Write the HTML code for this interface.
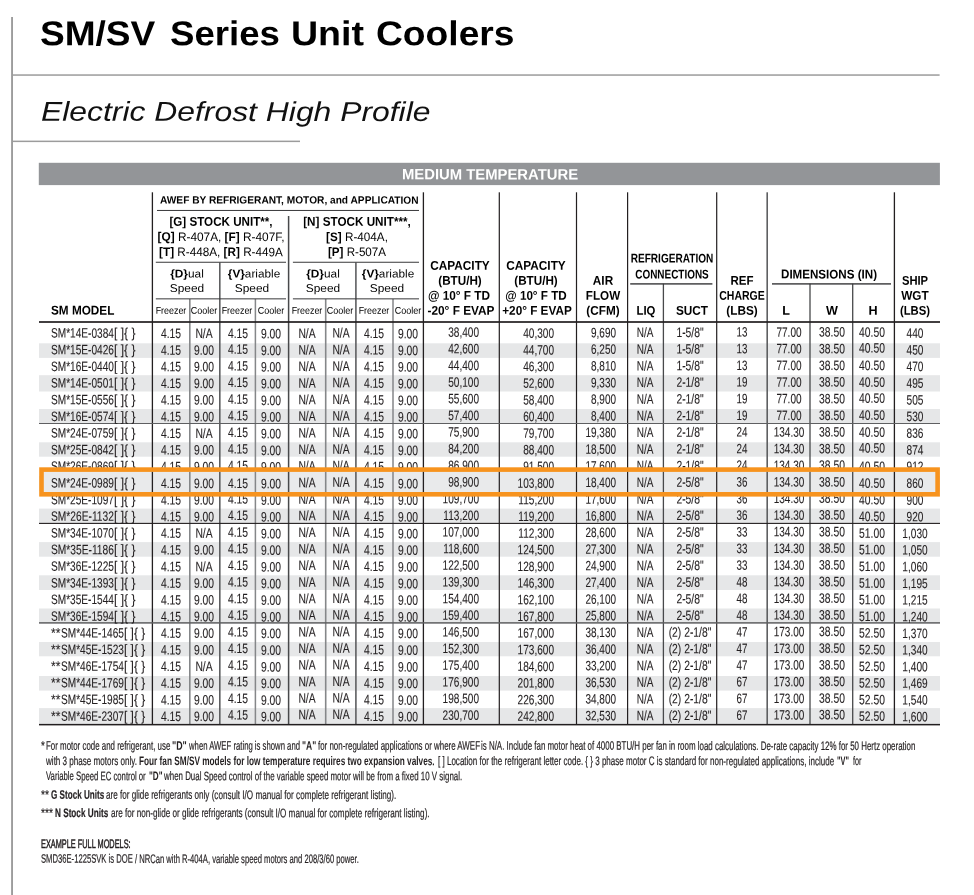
<!DOCTYPE html>
<html lang="en">
<head>
<meta charset="utf-8">
<title>SM/SV Series Unit Coolers - Electric Defrost High Profile</title>
<style>
html,body{margin:0;padding:0;background:#fff;}
body{width:974px;height:895px;position:relative;overflow:hidden;font-family:"Liberation Sans",Arial,Helvetica,sans-serif;color:#231f20;}
.g{position:absolute;left:0;top:0;display:block;}
.t{position:absolute;white-space:pre;line-height:1;display:block;}
.l{transform-origin:0 50%;}
.c{transform-origin:50% 50%;}
.rt{transform-origin:100% 50%;}
</style>
</head>
<body>
<svg class="g" width="974" height="895" viewBox="0 0 974 895">
<rect x="11.10" y="17.00" width="1.90" height="878.00" fill="#9c9c9c"/>
<rect x="12.00" y="74.30" width="927.60" height="1.50" fill="#9c9c9c"/>
<rect x="12.00" y="140.60" width="288.00" height="1.50" fill="#9c9c9c"/>
<rect x="38.80" y="162.80" width="901.10" height="22.30" fill="#939598"/>
<rect x="39.00" y="343.30" width="901.00" height="14.60" fill="#e6e7e8"/>
<rect x="39.00" y="375.20" width="901.00" height="16.30" fill="#e6e7e8"/>
<rect x="39.00" y="409.00" width="901.00" height="14.50" fill="#e6e7e8"/>
<rect x="39.00" y="442.30" width="901.00" height="14.40" fill="#e6e7e8"/>
<rect x="39.00" y="475.89" width="901.00" height="15.20" fill="#e6e7e8"/>
<rect x="39.00" y="508.60" width="901.00" height="14.80" fill="#e6e7e8"/>
<rect x="39.00" y="542.10" width="901.00" height="14.60" fill="#e6e7e8"/>
<rect x="39.00" y="575.30" width="901.00" height="14.70" fill="#e6e7e8"/>
<rect x="39.00" y="608.50" width="901.00" height="14.40" fill="#e6e7e8"/>
<rect x="39.00" y="642.00" width="901.00" height="14.30" fill="#e6e7e8"/>
<rect x="39.00" y="676.00" width="901.00" height="14.60" fill="#e6e7e8"/>
<rect x="39.00" y="708.10" width="901.00" height="16.30" fill="#e6e7e8"/>
<rect x="151.75" y="192.30" width="1.30" height="532.10" fill="#231f20"/>
<rect x="189.00" y="299.00" width="1.60" height="425.40" fill="#858789"/>
<rect x="219.00" y="262.50" width="1.60" height="461.90" fill="#5e5f61"/>
<rect x="254.65" y="299.00" width="1.50" height="425.40" fill="#858789"/>
<rect x="287.85" y="216.00" width="1.50" height="508.40" fill="#48494b"/>
<rect x="324.90" y="299.00" width="1.60" height="425.40" fill="#858789"/>
<rect x="355.10" y="262.50" width="1.60" height="461.90" fill="#5e5f61"/>
<rect x="392.25" y="299.00" width="1.50" height="425.40" fill="#858789"/>
<rect x="422.75" y="192.30" width="1.30" height="532.10" fill="#231f20"/>
<rect x="498.70" y="192.30" width="1.20" height="532.10" fill="#231f20"/>
<rect x="575.90" y="192.30" width="1.20" height="532.10" fill="#231f20"/>
<rect x="627.00" y="192.30" width="1.20" height="532.10" fill="#231f20"/>
<rect x="662.75" y="283.70" width="1.30" height="440.70" fill="#48494b"/>
<rect x="716.10" y="192.30" width="1.20" height="532.10" fill="#231f20"/>
<rect x="766.40" y="192.30" width="1.60" height="532.10" fill="#5e5f61"/>
<rect x="809.35" y="283.70" width="1.30" height="440.70" fill="#48494b"/>
<rect x="852.05" y="283.70" width="1.30" height="440.70" fill="#48494b"/>
<rect x="893.75" y="192.30" width="1.30" height="532.10" fill="#231f20"/>
<rect x="39.00" y="321.15" width="901.00" height="1.70" fill="#231f20"/>
<rect x="39.00" y="723.90" width="901.00" height="1.50" fill="#231f20"/>
<rect x="39.00" y="423.00" width="901.00" height="1.00" fill="#5e5f61"/>
<rect x="39.00" y="522.85" width="901.00" height="1.10" fill="#231f20"/>
<rect x="39.00" y="622.15" width="901.00" height="1.50" fill="#5e5f61"/>
<rect x="157.00" y="209.95" width="262.00" height="1.00" fill="#38383a"/>
<rect x="155.80" y="261.75" width="130.20" height="1.00" fill="#38383a"/>
<rect x="292.90" y="261.75" width="126.10" height="1.00" fill="#38383a"/>
<rect x="155.80" y="298.35" width="130.20" height="1.00" fill="#38383a"/>
<rect x="292.90" y="298.35" width="126.10" height="1.00" fill="#38383a"/>
<rect x="630.20" y="283.20" width="82.20" height="1.40" fill="#38383a"/>
<rect x="772.00" y="283.20" width="119.00" height="1.40" fill="#38383a"/>
</svg>
<div class="t l" id="t0" style="top:16px;font-size:34.5px;font-weight:bold;color:#000;left:39.90px;transform:translateY(0.20px) scaleX(1.0738) rotate(0.03deg)">SM/SV</div>
<div class="t l" id="t1" style="top:16px;font-size:34.5px;font-weight:bold;color:#000;left:169.80px;transform:translateY(0.20px) scaleX(1.0617) rotate(0.03deg)">Series</div>
<div class="t l" id="t2" style="top:16px;font-size:34.5px;font-weight:bold;color:#000;left:291.00px;transform:translateY(0.20px) scaleX(1.0880) rotate(0.03deg)">Unit</div>
<div class="t l" id="t3" style="top:16px;font-size:34.5px;font-weight:bold;color:#000;left:376.20px;transform:translateY(0.20px) scaleX(1.0781) rotate(0.03deg)">Coolers</div>
<div class="t l" id="t4" style="top:97px;font-size:27.2px;font-style:italic;color:#111;left:40.70px;transform:translateY(0.80px) scaleX(1.1717) rotate(0.03deg)">Electric Defrost High Profile</div>
<div class="t c" id="t5" style="top:166px;font-size:15px;font-weight:bold;color:#fff;left:490.00px;transform:translate(-50%,0.40px) scaleX(0.9895) rotate(0.03deg)">MEDIUM TEMPERATURE</div>
<div class="t l" id="t6" style="top:304px;font-size:12.6px;font-weight:bold;color:#000;left:51.20px;transform:translateY(0.60px) scaleX(0.9340) rotate(0.03deg)">SM MODEL</div>
<div class="t l" id="t7" style="top:194px;font-size:10.5px;font-weight:bold;color:#000;left:159.60px;transform:translateY(0.50px) scaleX(0.9672) rotate(0.03deg)">AWEF BY REFRIGERANT, MOTOR, and APPLICATION</div>
<div class="t c" id="t8" style="top:215px;font-size:12.6px;color:#000;left:221.10px;transform:translate(-50%,0.80px) scaleX(0.9237) rotate(0.03deg)"><b>[G] STOCK UNIT**,</b></div>
<div class="t c" id="t9" style="top:230px;font-size:12.3px;color:#000;left:221.10px;transform:translate(-50%,0.90px) scaleX(0.9628) rotate(0.03deg)"><b>[Q]</b> R-407A, <b>[F]</b> R-407F,</div>
<div class="t c" id="t10" style="top:246px;font-size:12.3px;color:#000;left:221.10px;transform:translate(-50%,0.10px) scaleX(0.9533) rotate(0.03deg)"><b>[T]</b> R-448A, <b>[R]</b> R-449A</div>
<div class="t c" id="t11" style="top:215px;font-size:12.6px;color:#000;left:357.20px;transform:translate(-50%,0.80px) scaleX(0.9290) rotate(0.03deg)"><b>[N] STOCK UNIT***,</b></div>
<div class="t c" id="t12" style="top:230px;font-size:12.3px;color:#000;left:357.20px;transform:translate(-50%,0.90px) scaleX(0.9516) rotate(0.03deg)"><b>[S]</b> R-404A,</div>
<div class="t c" id="t13" style="top:246px;font-size:12.3px;color:#000;left:357.20px;transform:translate(-50%,0.10px) scaleX(0.9441) rotate(0.03deg)"><b>[P]</b> R-507A</div>
<div class="t c" id="t14" style="top:268px;font-size:11.4px;color:#000;left:186.50px;transform:translate(-50%,0.40px) scaleX(1.0402) rotate(0.03deg)"><b>{D}</b>ual</div>
<div class="t c" id="t15" style="top:283px;font-size:11.4px;color:#000;left:186.90px;transform:translate(-50%,0.10px) scaleX(1.0442) rotate(0.03deg)">Speed</div>
<div class="t c" id="t16" style="top:268px;font-size:11.4px;color:#000;left:322.50px;transform:translate(-50%,0.40px) scaleX(1.0402) rotate(0.03deg)"><b>{D}</b>ual</div>
<div class="t c" id="t17" style="top:283px;font-size:11.4px;color:#000;left:322.90px;transform:translate(-50%,0.10px) scaleX(1.0442) rotate(0.03deg)">Speed</div>
<div class="t c" id="t18" style="top:268px;font-size:11.4px;color:#000;left:253.70px;transform:translate(-50%,0.40px) scaleX(1.0340) rotate(0.03deg)"><b>{V}</b>ariable</div>
<div class="t c" id="t19" style="top:283px;font-size:11.4px;color:#000;left:251.90px;transform:translate(-50%,0.10px) scaleX(1.0442) rotate(0.03deg)">Speed</div>
<div class="t c" id="t20" style="top:268px;font-size:11.4px;color:#000;left:388.00px;transform:translate(-50%,0.40px) scaleX(1.0340) rotate(0.03deg)"><b>{V}</b>ariable</div>
<div class="t c" id="t21" style="top:283px;font-size:11.4px;color:#000;left:386.50px;transform:translate(-50%,0.10px) scaleX(1.0442) rotate(0.03deg)">Speed</div>
<div class="t c" id="t22" style="top:305px;font-size:9.8px;color:#000;left:170.50px;transform:translate(-50%,0.70px) scaleX(0.9091) rotate(0.03deg)">Freezer</div>
<div class="t c" id="t23" style="top:305px;font-size:9.8px;color:#000;left:204.20px;transform:translate(-50%,0.70px) scaleX(0.9210) rotate(0.03deg)">Cooler</div>
<div class="t c" id="t24" style="top:305px;font-size:9.8px;color:#000;left:237.00px;transform:translate(-50%,0.70px) scaleX(0.9091) rotate(0.03deg)">Freezer</div>
<div class="t c" id="t25" style="top:305px;font-size:9.8px;color:#000;left:271.40px;transform:translate(-50%,0.70px) scaleX(0.9210) rotate(0.03deg)">Cooler</div>
<div class="t c" id="t26" style="top:305px;font-size:9.8px;color:#000;left:306.55px;transform:translate(-50%,0.70px) scaleX(0.9091) rotate(0.03deg)">Freezer</div>
<div class="t c" id="t27" style="top:305px;font-size:9.8px;color:#000;left:340.20px;transform:translate(-50%,0.70px) scaleX(0.9210) rotate(0.03deg)">Cooler</div>
<div class="t c" id="t28" style="top:305px;font-size:9.8px;color:#000;left:373.85px;transform:translate(-50%,0.70px) scaleX(0.9091) rotate(0.03deg)">Freezer</div>
<div class="t c" id="t29" style="top:305px;font-size:9.8px;color:#000;left:407.60px;transform:translate(-50%,0.70px) scaleX(0.9210) rotate(0.03deg)">Cooler</div>
<div class="t c" id="t30" style="top:259px;font-size:12.6px;font-weight:bold;color:#000;left:459.65px;transform:translate(-50%,0.80px) scaleX(0.9378) rotate(0.03deg)">CAPACITY</div>
<div class="t c" id="t31" style="top:274px;font-size:12.6px;font-weight:bold;color:#000;left:459.65px;transform:translate(-50%,0.80px) scaleX(0.9279) rotate(0.03deg)">(BTU/H)</div>
<div class="t c" id="t32" style="top:289px;font-size:12.6px;font-weight:bold;color:#000;left:459.45px;transform:translate(-50%,0.80px) scaleX(0.9379) rotate(0.03deg)">@ 10° F TD</div>
<div class="t c" id="t33" style="top:304px;font-size:12.6px;font-weight:bold;color:#000;left:461.05px;transform:translate(-50%,0.80px) scaleX(0.9396) rotate(0.03deg)">-20° F EVAP</div>
<div class="t c" id="t34" style="top:259px;font-size:12.6px;font-weight:bold;color:#000;left:536.40px;transform:translate(-50%,0.80px) scaleX(0.9378) rotate(0.03deg)">CAPACITY</div>
<div class="t c" id="t35" style="top:274px;font-size:12.6px;font-weight:bold;color:#000;left:536.30px;transform:translate(-50%,0.80px) scaleX(0.9279) rotate(0.03deg)">(BTU/H)</div>
<div class="t c" id="t36" style="top:289px;font-size:12.6px;font-weight:bold;color:#000;left:536.20px;transform:translate(-50%,0.80px) scaleX(0.9273) rotate(0.03deg)">@ 10° F TD</div>
<div class="t c" id="t37" style="top:304px;font-size:12.6px;font-weight:bold;color:#000;left:537.40px;transform:translate(-50%,0.80px) scaleX(0.9334) rotate(0.03deg)">+20° F EVAP</div>
<div class="t c" id="t38" style="top:274px;font-size:12.6px;font-weight:bold;color:#000;left:603.05px;transform:translate(-50%,0.80px) scaleX(0.9351) rotate(0.03deg)">AIR</div>
<div class="t c" id="t39" style="top:289px;font-size:12.6px;font-weight:bold;color:#000;left:603.05px;transform:translate(-50%,0.80px) scaleX(0.9249) rotate(0.03deg)">FLOW</div>
<div class="t c" id="t40" style="top:304px;font-size:12.6px;font-weight:bold;color:#000;left:603.05px;transform:translate(-50%,0.80px) scaleX(0.9333) rotate(0.03deg)">(CFM)</div>
<div class="t c" id="t41" style="top:252px;font-size:12.6px;font-weight:bold;color:#000;left:672.00px;transform:translate(-50%,0.60px) scaleX(0.8003) rotate(0.03deg)">REFRIGERATION</div>
<div class="t c" id="t42" style="top:268px;font-size:12.6px;font-weight:bold;color:#000;left:671.80px;transform:translate(-50%,0.40px) scaleX(0.7897) rotate(0.03deg)">CONNECTIONS</div>
<div class="t c" id="t43" style="top:304px;font-size:12.6px;font-weight:bold;color:#000;left:646.30px;transform:translate(-50%,0.80px) scaleX(0.9045) rotate(0.03deg)">LIQ</div>
<div class="t c" id="t44" style="top:304px;font-size:12.6px;font-weight:bold;color:#000;left:691.60px;transform:translate(-50%,0.80px) scaleX(0.9387) rotate(0.03deg)">SUCT</div>
<div class="t c" id="t45" style="top:274px;font-size:12.6px;font-weight:bold;color:#000;left:742.00px;transform:translate(-50%,0.80px) scaleX(0.9129) rotate(0.03deg)">REF</div>
<div class="t c" id="t46" style="top:289px;font-size:12.6px;font-weight:bold;color:#000;left:742.00px;transform:translate(-50%,0.80px) scaleX(0.8354) rotate(0.03deg)">CHARGE</div>
<div class="t c" id="t47" style="top:304px;font-size:12.6px;font-weight:bold;color:#000;left:742.40px;transform:translate(-50%,0.80px) scaleX(0.9379) rotate(0.03deg)">(LBS)</div>
<div class="t c" id="t48" style="top:268px;font-size:12.6px;font-weight:bold;color:#000;left:829.00px;transform:translate(-50%,0.40px) scaleX(0.9208) rotate(0.03deg)">DIMENSIONS (IN)</div>
<div class="t c" id="t49" style="top:304px;font-size:12.6px;font-weight:bold;color:#000;left:785.60px;transform:translate(-50%,0.80px) scaleX(1.0000) rotate(0.03deg)">L</div>
<div class="t c" id="t50" style="top:304px;font-size:12.6px;font-weight:bold;color:#000;left:832.00px;transform:translate(-50%,0.80px) scaleX(1.0000) rotate(0.03deg)">W</div>
<div class="t c" id="t51" style="top:304px;font-size:12.6px;font-weight:bold;color:#000;left:872.70px;transform:translate(-50%,0.80px) scaleX(1.0000) rotate(0.03deg)">H</div>
<div class="t c" id="t52" style="top:274px;font-size:12.6px;font-weight:bold;color:#000;left:915.30px;transform:translate(-50%,0.80px) scaleX(0.8908) rotate(0.03deg)">SHIP</div>
<div class="t c" id="t53" style="top:289px;font-size:12.6px;font-weight:bold;color:#000;left:915.30px;transform:translate(-50%,0.80px) scaleX(0.9355) rotate(0.03deg)">WGT</div>
<div class="t c" id="t54" style="top:304px;font-size:12.6px;font-weight:bold;color:#000;left:915.30px;transform:translate(-50%,0.80px) scaleX(0.8992) rotate(0.03deg)">(LBS)</div>
<div class="t l" id="t55" style="top:326px;font-size:13.6px;-webkit-text-stroke:0.1px #231f20;left:51.00px;transform:translateY(0.60px) scaleX(0.7431) rotate(0.03deg)">SM*14E-0384</div>
<div class="t l" id="t56" style="top:326px;font-size:13.6px;-webkit-text-stroke:0.1px #231f20;left:113.80px;transform:translateY(0.60px) scaleX(0.8845) rotate(0.03deg)">[ ]{ }</div>
<div class="t c" id="t57" style="top:327px;font-size:13.6px;-webkit-text-stroke:0.1px #231f20;left:170.60px;transform:translate(-50%,0.00px) scaleX(0.7597) rotate(0.03deg)">4.15</div>
<div class="t c" id="t58" style="top:327px;font-size:13.6px;-webkit-text-stroke:0.1px #231f20;left:203.60px;transform:translate(-50%,0.00px) scaleX(0.7597) rotate(0.03deg)">N/A</div>
<div class="t c" id="t59" style="top:327px;font-size:13.6px;-webkit-text-stroke:0.1px #231f20;left:237.70px;transform:translate(-50%,0.00px) scaleX(0.7597) rotate(0.03deg)">4.15</div>
<div class="t c" id="t60" style="top:327px;font-size:13.6px;-webkit-text-stroke:0.1px #231f20;left:271.20px;transform:translate(-50%,0.30px) scaleX(0.7597) rotate(0.03deg)">9.00</div>
<div class="t c" id="t61" style="top:326px;font-size:13.6px;-webkit-text-stroke:0.1px #231f20;left:307.00px;transform:translate(-50%,0.90px) scaleX(0.7597) rotate(0.03deg)">N/A</div>
<div class="t c" id="t62" style="top:326px;font-size:13.6px;-webkit-text-stroke:0.1px #231f20;left:340.80px;transform:translate(-50%,0.60px) scaleX(0.7597) rotate(0.03deg)">N/A</div>
<div class="t c" id="t63" style="top:326px;font-size:13.6px;-webkit-text-stroke:0.1px #231f20;left:373.80px;transform:translate(-50%,0.90px) scaleX(0.7597) rotate(0.03deg)">4.15</div>
<div class="t c" id="t64" style="top:327px;font-size:13.6px;-webkit-text-stroke:0.1px #231f20;left:408.10px;transform:translate(-50%,0.30px) scaleX(0.7597) rotate(0.03deg)">9.00</div>
<div class="t rt" id="t65" style="top:325px;font-size:13.6px;-webkit-text-stroke:0.1px #231f20;left:478.50px;transform:translate(-100%,0.70px) scaleX(0.7407) rotate(0.03deg)">38,400</div>
<div class="t rt" id="t66" style="top:326px;font-size:13.6px;-webkit-text-stroke:0.1px #231f20;left:553.90px;transform:translate(-100%,0.80px) scaleX(0.7407) rotate(0.03deg)">40,300</div>
<div class="t rt" id="t67" style="top:326px;font-size:13.6px;-webkit-text-stroke:0.1px #231f20;left:616.40px;transform:translate(-100%,0.20px) scaleX(0.7331) rotate(0.03deg)">9,690</div>
<div class="t c" id="t68" style="top:326px;font-size:13.6px;-webkit-text-stroke:0.1px #231f20;left:645.00px;transform:translate(-50%,0.10px) scaleX(0.7369) rotate(0.03deg)">N/A</div>
<div class="t c" id="t69" style="top:325px;font-size:13.6px;-webkit-text-stroke:0.1px #231f20;left:689.70px;transform:translate(-50%,0.90px) scaleX(0.7597) rotate(0.03deg)">1-5/8"</div>
<div class="t c" id="t70" style="top:325px;font-size:13.6px;-webkit-text-stroke:0.1px #231f20;left:741.60px;transform:translate(-50%,0.60px) scaleX(0.7217) rotate(0.03deg)">13</div>
<div class="t c" id="t71" style="top:325px;font-size:13.6px;-webkit-text-stroke:0.1px #231f20;left:788.60px;transform:translate(-50%,0.70px) scaleX(0.7369) rotate(0.03deg)">77.00</div>
<div class="t c" id="t72" style="top:325px;font-size:13.6px;-webkit-text-stroke:0.1px #231f20;left:831.60px;transform:translate(-50%,0.60px) scaleX(0.7597) rotate(0.03deg)">38.50</div>
<div class="t c" id="t73" style="top:325px;font-size:13.6px;-webkit-text-stroke:0.1px #231f20;left:872.00px;transform:translate(-50%,0.80px) scaleX(0.7597) rotate(0.03deg)">40.50</div>
<div class="t c" id="t74" style="top:326px;font-size:13.6px;-webkit-text-stroke:0.1px #231f20;left:915.30px;transform:translate(-50%,0.80px) scaleX(0.7445) rotate(0.03deg)">440</div>
<div class="t l" id="t75" style="top:343px;font-size:13.6px;-webkit-text-stroke:0.1px #231f20;left:51.00px;transform:translateY(0.25px) scaleX(0.7431) rotate(0.03deg)">SM*15E-0426</div>
<div class="t l" id="t76" style="top:343px;font-size:13.6px;-webkit-text-stroke:0.1px #231f20;left:113.80px;transform:translateY(0.25px) scaleX(0.8845) rotate(0.03deg)">[ ]{ }</div>
<div class="t c" id="t77" style="top:343px;font-size:13.6px;-webkit-text-stroke:0.1px #231f20;left:170.60px;transform:translate(-50%,0.65px) scaleX(0.7597) rotate(0.03deg)">4.15</div>
<div class="t c" id="t78" style="top:343px;font-size:13.6px;-webkit-text-stroke:0.1px #231f20;left:203.60px;transform:translate(-50%,0.65px) scaleX(0.7597) rotate(0.03deg)">9.00</div>
<div class="t c" id="t79" style="top:342px;font-size:13.6px;-webkit-text-stroke:0.1px #231f20;left:237.70px;transform:translate(-50%,0.82px) scaleX(0.7597) rotate(0.03deg)">4.15</div>
<div class="t c" id="t80" style="top:343px;font-size:13.6px;-webkit-text-stroke:0.1px #231f20;left:271.20px;transform:translate(-50%,0.95px) scaleX(0.7597) rotate(0.03deg)">9.00</div>
<div class="t c" id="t81" style="top:343px;font-size:13.6px;-webkit-text-stroke:0.1px #231f20;left:307.00px;transform:translate(-50%,0.49px) scaleX(0.7597) rotate(0.03deg)">N/A</div>
<div class="t c" id="t82" style="top:343px;font-size:13.6px;-webkit-text-stroke:0.1px #231f20;left:340.80px;transform:translate(-50%,0.19px) scaleX(0.7597) rotate(0.03deg)">N/A</div>
<div class="t c" id="t83" style="top:343px;font-size:13.6px;-webkit-text-stroke:0.1px #231f20;left:373.80px;transform:translate(-50%,0.56px) scaleX(0.7597) rotate(0.03deg)">4.15</div>
<div class="t c" id="t84" style="top:343px;font-size:13.6px;-webkit-text-stroke:0.1px #231f20;left:408.10px;transform:translate(-50%,0.95px) scaleX(0.7597) rotate(0.03deg)">9.00</div>
<div class="t rt" id="t85" style="top:342px;font-size:13.6px;-webkit-text-stroke:0.1px #231f20;left:478.50px;transform:translate(-100%,0.36px) scaleX(0.7407) rotate(0.03deg)">42,600</div>
<div class="t rt" id="t86" style="top:343px;font-size:13.6px;-webkit-text-stroke:0.1px #231f20;left:553.90px;transform:translate(-100%,0.45px) scaleX(0.7407) rotate(0.03deg)">44,700</div>
<div class="t rt" id="t87" style="top:342px;font-size:13.6px;-webkit-text-stroke:0.1px #231f20;left:616.40px;transform:translate(-100%,0.86px) scaleX(0.7331) rotate(0.03deg)">6,250</div>
<div class="t c" id="t88" style="top:342px;font-size:13.6px;-webkit-text-stroke:0.1px #231f20;left:645.00px;transform:translate(-50%,0.75px) scaleX(0.7369) rotate(0.03deg)">N/A</div>
<div class="t c" id="t89" style="top:342px;font-size:13.6px;-webkit-text-stroke:0.1px #231f20;left:689.70px;transform:translate(-50%,0.56px) scaleX(0.7597) rotate(0.03deg)">1-5/8"</div>
<div class="t c" id="t90" style="top:342px;font-size:13.6px;-webkit-text-stroke:0.1px #231f20;left:741.60px;transform:translate(-50%,0.25px) scaleX(0.7217) rotate(0.03deg)">13</div>
<div class="t c" id="t91" style="top:342px;font-size:13.6px;-webkit-text-stroke:0.1px #231f20;left:788.60px;transform:translate(-50%,0.36px) scaleX(0.7369) rotate(0.03deg)">77.00</div>
<div class="t c" id="t92" style="top:342px;font-size:13.6px;-webkit-text-stroke:0.1px #231f20;left:831.60px;transform:translate(-50%,0.25px) scaleX(0.7597) rotate(0.03deg)">38.50</div>
<div class="t c" id="t93" style="top:341px;font-size:13.6px;-webkit-text-stroke:0.1px #231f20;left:872.00px;transform:translate(-50%,0.56px) scaleX(0.7597) rotate(0.03deg)">40.50</div>
<div class="t c" id="t94" style="top:343px;font-size:13.6px;-webkit-text-stroke:0.1px #231f20;left:915.30px;transform:translate(-50%,0.45px) scaleX(0.7445) rotate(0.03deg)">450</div>
<div class="t l" id="t95" style="top:359px;font-size:13.6px;-webkit-text-stroke:0.1px #231f20;left:51.00px;transform:translateY(0.91px) scaleX(0.7431) rotate(0.03deg)">SM*16E-0440</div>
<div class="t l" id="t96" style="top:359px;font-size:13.6px;-webkit-text-stroke:0.1px #231f20;left:113.80px;transform:translateY(0.91px) scaleX(0.8845) rotate(0.03deg)">[ ]{ }</div>
<div class="t c" id="t97" style="top:360px;font-size:13.6px;-webkit-text-stroke:0.1px #231f20;left:170.60px;transform:translate(-50%,0.31px) scaleX(0.7597) rotate(0.03deg)">4.15</div>
<div class="t c" id="t98" style="top:360px;font-size:13.6px;-webkit-text-stroke:0.1px #231f20;left:203.60px;transform:translate(-50%,0.31px) scaleX(0.7597) rotate(0.03deg)">9.00</div>
<div class="t c" id="t99" style="top:359px;font-size:13.6px;-webkit-text-stroke:0.1px #231f20;left:237.70px;transform:translate(-50%,0.45px) scaleX(0.7597) rotate(0.03deg)">4.15</div>
<div class="t c" id="t100" style="top:360px;font-size:13.6px;-webkit-text-stroke:0.1px #231f20;left:271.20px;transform:translate(-50%,0.61px) scaleX(0.7597) rotate(0.03deg)">9.00</div>
<div class="t c" id="t101" style="top:360px;font-size:13.6px;-webkit-text-stroke:0.1px #231f20;left:307.00px;transform:translate(-50%,0.07px) scaleX(0.7597) rotate(0.03deg)">N/A</div>
<div class="t c" id="t102" style="top:359px;font-size:13.6px;-webkit-text-stroke:0.1px #231f20;left:340.80px;transform:translate(-50%,0.77px) scaleX(0.7597) rotate(0.03deg)">N/A</div>
<div class="t c" id="t103" style="top:360px;font-size:13.6px;-webkit-text-stroke:0.1px #231f20;left:373.80px;transform:translate(-50%,0.21px) scaleX(0.7597) rotate(0.03deg)">4.15</div>
<div class="t c" id="t104" style="top:360px;font-size:13.6px;-webkit-text-stroke:0.1px #231f20;left:408.10px;transform:translate(-50%,0.61px) scaleX(0.7597) rotate(0.03deg)">9.00</div>
<div class="t rt" id="t105" style="top:359px;font-size:13.6px;-webkit-text-stroke:0.1px #231f20;left:478.50px;transform:translate(-100%,0.01px) scaleX(0.7407) rotate(0.03deg)">44,400</div>
<div class="t rt" id="t106" style="top:360px;font-size:13.6px;-webkit-text-stroke:0.1px #231f20;left:553.90px;transform:translate(-100%,0.11px) scaleX(0.7407) rotate(0.03deg)">46,300</div>
<div class="t rt" id="t107" style="top:359px;font-size:13.6px;-webkit-text-stroke:0.1px #231f20;left:616.40px;transform:translate(-100%,0.51px) scaleX(0.7331) rotate(0.03deg)">8,810</div>
<div class="t c" id="t108" style="top:359px;font-size:13.6px;-webkit-text-stroke:0.1px #231f20;left:645.00px;transform:translate(-50%,0.41px) scaleX(0.7369) rotate(0.03deg)">N/A</div>
<div class="t c" id="t109" style="top:359px;font-size:13.6px;-webkit-text-stroke:0.1px #231f20;left:689.70px;transform:translate(-50%,0.21px) scaleX(0.7597) rotate(0.03deg)">1-5/8"</div>
<div class="t c" id="t110" style="top:358px;font-size:13.6px;-webkit-text-stroke:0.1px #231f20;left:741.60px;transform:translate(-50%,0.91px) scaleX(0.7217) rotate(0.03deg)">13</div>
<div class="t c" id="t111" style="top:359px;font-size:13.6px;-webkit-text-stroke:0.1px #231f20;left:788.60px;transform:translate(-50%,0.01px) scaleX(0.7369) rotate(0.03deg)">77.00</div>
<div class="t c" id="t112" style="top:358px;font-size:13.6px;-webkit-text-stroke:0.1px #231f20;left:831.60px;transform:translate(-50%,0.91px) scaleX(0.7597) rotate(0.03deg)">38.50</div>
<div class="t c" id="t113" style="top:359px;font-size:13.6px;-webkit-text-stroke:0.1px #231f20;left:872.00px;transform:translate(-50%,0.11px) scaleX(0.7597) rotate(0.03deg)">40.50</div>
<div class="t c" id="t114" style="top:360px;font-size:13.6px;-webkit-text-stroke:0.1px #231f20;left:915.30px;transform:translate(-50%,0.11px) scaleX(0.7445) rotate(0.03deg)">470</div>
<div class="t l" id="t115" style="top:376px;font-size:13.6px;-webkit-text-stroke:0.1px #231f20;left:51.00px;transform:translateY(0.57px) scaleX(0.7431) rotate(0.03deg)">SM*14E-0501</div>
<div class="t l" id="t116" style="top:376px;font-size:13.6px;-webkit-text-stroke:0.1px #231f20;left:113.80px;transform:translateY(0.57px) scaleX(0.8845) rotate(0.03deg)">[ ]{ }</div>
<div class="t c" id="t117" style="top:376px;font-size:13.6px;-webkit-text-stroke:0.1px #231f20;left:170.60px;transform:translate(-50%,0.97px) scaleX(0.7597) rotate(0.03deg)">4.15</div>
<div class="t c" id="t118" style="top:376px;font-size:13.6px;-webkit-text-stroke:0.1px #231f20;left:203.60px;transform:translate(-50%,0.97px) scaleX(0.7597) rotate(0.03deg)">9.00</div>
<div class="t c" id="t119" style="top:376px;font-size:13.6px;-webkit-text-stroke:0.1px #231f20;left:237.70px;transform:translate(-50%,0.07px) scaleX(0.7597) rotate(0.03deg)">4.15</div>
<div class="t c" id="t120" style="top:377px;font-size:13.6px;-webkit-text-stroke:0.1px #231f20;left:271.20px;transform:translate(-50%,0.27px) scaleX(0.7597) rotate(0.03deg)">9.00</div>
<div class="t c" id="t121" style="top:376px;font-size:13.6px;-webkit-text-stroke:0.1px #231f20;left:307.00px;transform:translate(-50%,0.66px) scaleX(0.7597) rotate(0.03deg)">N/A</div>
<div class="t c" id="t122" style="top:376px;font-size:13.6px;-webkit-text-stroke:0.1px #231f20;left:340.80px;transform:translate(-50%,0.36px) scaleX(0.7597) rotate(0.03deg)">N/A</div>
<div class="t c" id="t123" style="top:376px;font-size:13.6px;-webkit-text-stroke:0.1px #231f20;left:373.80px;transform:translate(-50%,0.87px) scaleX(0.7597) rotate(0.03deg)">4.15</div>
<div class="t c" id="t124" style="top:377px;font-size:13.6px;-webkit-text-stroke:0.1px #231f20;left:408.10px;transform:translate(-50%,0.27px) scaleX(0.7597) rotate(0.03deg)">9.00</div>
<div class="t rt" id="t125" style="top:375px;font-size:13.6px;-webkit-text-stroke:0.1px #231f20;left:478.50px;transform:translate(-100%,0.67px) scaleX(0.7407) rotate(0.03deg)">50,100</div>
<div class="t rt" id="t126" style="top:376px;font-size:13.6px;-webkit-text-stroke:0.1px #231f20;left:553.90px;transform:translate(-100%,0.77px) scaleX(0.7407) rotate(0.03deg)">52,600</div>
<div class="t rt" id="t127" style="top:376px;font-size:13.6px;-webkit-text-stroke:0.1px #231f20;left:616.40px;transform:translate(-100%,0.17px) scaleX(0.7331) rotate(0.03deg)">9,330</div>
<div class="t c" id="t128" style="top:376px;font-size:13.6px;-webkit-text-stroke:0.1px #231f20;left:645.00px;transform:translate(-50%,0.07px) scaleX(0.7369) rotate(0.03deg)">N/A</div>
<div class="t c" id="t129" style="top:375px;font-size:13.6px;-webkit-text-stroke:0.1px #231f20;left:689.70px;transform:translate(-50%,0.87px) scaleX(0.7597) rotate(0.03deg)">2-1/8"</div>
<div class="t c" id="t130" style="top:375px;font-size:13.6px;-webkit-text-stroke:0.1px #231f20;left:741.60px;transform:translate(-50%,0.57px) scaleX(0.7217) rotate(0.03deg)">19</div>
<div class="t c" id="t131" style="top:375px;font-size:13.6px;-webkit-text-stroke:0.1px #231f20;left:788.60px;transform:translate(-50%,0.67px) scaleX(0.7369) rotate(0.03deg)">77.00</div>
<div class="t c" id="t132" style="top:375px;font-size:13.6px;-webkit-text-stroke:0.1px #231f20;left:831.60px;transform:translate(-50%,0.57px) scaleX(0.7597) rotate(0.03deg)">38.50</div>
<div class="t c" id="t133" style="top:375px;font-size:13.6px;-webkit-text-stroke:0.1px #231f20;left:872.00px;transform:translate(-50%,0.77px) scaleX(0.7597) rotate(0.03deg)">40.50</div>
<div class="t c" id="t134" style="top:376px;font-size:13.6px;-webkit-text-stroke:0.1px #231f20;left:915.30px;transform:translate(-50%,0.77px) scaleX(0.7445) rotate(0.03deg)">495</div>
<div class="t l" id="t135" style="top:393px;font-size:13.6px;-webkit-text-stroke:0.1px #231f20;left:51.00px;transform:translateY(0.22px) scaleX(0.7431) rotate(0.03deg)">SM*15E-0556</div>
<div class="t l" id="t136" style="top:393px;font-size:13.6px;-webkit-text-stroke:0.1px #231f20;left:113.80px;transform:translateY(0.22px) scaleX(0.8845) rotate(0.03deg)">[ ]{ }</div>
<div class="t c" id="t137" style="top:393px;font-size:13.6px;-webkit-text-stroke:0.1px #231f20;left:170.60px;transform:translate(-50%,0.62px) scaleX(0.7597) rotate(0.03deg)">4.15</div>
<div class="t c" id="t138" style="top:393px;font-size:13.6px;-webkit-text-stroke:0.1px #231f20;left:203.60px;transform:translate(-50%,0.62px) scaleX(0.7597) rotate(0.03deg)">9.00</div>
<div class="t c" id="t139" style="top:392px;font-size:13.6px;-webkit-text-stroke:0.1px #231f20;left:237.70px;transform:translate(-50%,0.70px) scaleX(0.7597) rotate(0.03deg)">4.15</div>
<div class="t c" id="t140" style="top:393px;font-size:13.6px;-webkit-text-stroke:0.1px #231f20;left:271.20px;transform:translate(-50%,0.92px) scaleX(0.7597) rotate(0.03deg)">9.00</div>
<div class="t c" id="t141" style="top:393px;font-size:13.6px;-webkit-text-stroke:0.1px #231f20;left:307.00px;transform:translate(-50%,0.24px) scaleX(0.7597) rotate(0.03deg)">N/A</div>
<div class="t c" id="t142" style="top:392px;font-size:13.6px;-webkit-text-stroke:0.1px #231f20;left:340.80px;transform:translate(-50%,0.94px) scaleX(0.7597) rotate(0.03deg)">N/A</div>
<div class="t c" id="t143" style="top:393px;font-size:13.6px;-webkit-text-stroke:0.1px #231f20;left:373.80px;transform:translate(-50%,0.52px) scaleX(0.7597) rotate(0.03deg)">4.15</div>
<div class="t c" id="t144" style="top:393px;font-size:13.6px;-webkit-text-stroke:0.1px #231f20;left:408.10px;transform:translate(-50%,0.92px) scaleX(0.7597) rotate(0.03deg)">9.00</div>
<div class="t rt" id="t145" style="top:392px;font-size:13.6px;-webkit-text-stroke:0.1px #231f20;left:478.50px;transform:translate(-100%,0.32px) scaleX(0.7407) rotate(0.03deg)">55,600</div>
<div class="t rt" id="t146" style="top:393px;font-size:13.6px;-webkit-text-stroke:0.1px #231f20;left:553.90px;transform:translate(-100%,0.42px) scaleX(0.7407) rotate(0.03deg)">58,400</div>
<div class="t rt" id="t147" style="top:392px;font-size:13.6px;-webkit-text-stroke:0.1px #231f20;left:616.40px;transform:translate(-100%,0.82px) scaleX(0.7331) rotate(0.03deg)">8,900</div>
<div class="t c" id="t148" style="top:392px;font-size:13.6px;-webkit-text-stroke:0.1px #231f20;left:645.00px;transform:translate(-50%,0.72px) scaleX(0.7369) rotate(0.03deg)">N/A</div>
<div class="t c" id="t149" style="top:392px;font-size:13.6px;-webkit-text-stroke:0.1px #231f20;left:689.70px;transform:translate(-50%,0.52px) scaleX(0.7597) rotate(0.03deg)">2-1/8"</div>
<div class="t c" id="t150" style="top:392px;font-size:13.6px;-webkit-text-stroke:0.1px #231f20;left:741.60px;transform:translate(-50%,0.22px) scaleX(0.7217) rotate(0.03deg)">19</div>
<div class="t c" id="t151" style="top:392px;font-size:13.6px;-webkit-text-stroke:0.1px #231f20;left:788.60px;transform:translate(-50%,0.32px) scaleX(0.7369) rotate(0.03deg)">77.00</div>
<div class="t c" id="t152" style="top:392px;font-size:13.6px;-webkit-text-stroke:0.1px #231f20;left:831.60px;transform:translate(-50%,0.22px) scaleX(0.7597) rotate(0.03deg)">38.50</div>
<div class="t c" id="t153" style="top:391px;font-size:13.6px;-webkit-text-stroke:0.1px #231f20;left:872.00px;transform:translate(-50%,0.82px) scaleX(0.7597) rotate(0.03deg)">40.50</div>
<div class="t c" id="t154" style="top:393px;font-size:13.6px;-webkit-text-stroke:0.1px #231f20;left:915.30px;transform:translate(-50%,0.42px) scaleX(0.7445) rotate(0.03deg)">505</div>
<div class="t l" id="t155" style="top:409px;font-size:13.6px;-webkit-text-stroke:0.1px #231f20;left:51.00px;transform:translateY(0.88px) scaleX(0.7431) rotate(0.03deg)">SM*16E-0574</div>
<div class="t l" id="t156" style="top:409px;font-size:13.6px;-webkit-text-stroke:0.1px #231f20;left:113.80px;transform:translateY(0.88px) scaleX(0.8845) rotate(0.03deg)">[ ]{ }</div>
<div class="t c" id="t157" style="top:410px;font-size:13.6px;-webkit-text-stroke:0.1px #231f20;left:170.60px;transform:translate(-50%,0.27px) scaleX(0.7597) rotate(0.03deg)">4.15</div>
<div class="t c" id="t158" style="top:410px;font-size:13.6px;-webkit-text-stroke:0.1px #231f20;left:203.60px;transform:translate(-50%,0.27px) scaleX(0.7597) rotate(0.03deg)">9.00</div>
<div class="t c" id="t159" style="top:409px;font-size:13.6px;-webkit-text-stroke:0.1px #231f20;left:237.70px;transform:translate(-50%,0.32px) scaleX(0.7597) rotate(0.03deg)">4.15</div>
<div class="t c" id="t160" style="top:410px;font-size:13.6px;-webkit-text-stroke:0.1px #231f20;left:271.20px;transform:translate(-50%,0.57px) scaleX(0.7597) rotate(0.03deg)">9.00</div>
<div class="t c" id="t161" style="top:409px;font-size:13.6px;-webkit-text-stroke:0.1px #231f20;left:307.00px;transform:translate(-50%,0.83px) scaleX(0.7597) rotate(0.03deg)">N/A</div>
<div class="t c" id="t162" style="top:409px;font-size:13.6px;-webkit-text-stroke:0.1px #231f20;left:340.80px;transform:translate(-50%,0.53px) scaleX(0.7597) rotate(0.03deg)">N/A</div>
<div class="t c" id="t163" style="top:410px;font-size:13.6px;-webkit-text-stroke:0.1px #231f20;left:373.80px;transform:translate(-50%,0.18px) scaleX(0.7597) rotate(0.03deg)">4.15</div>
<div class="t c" id="t164" style="top:410px;font-size:13.6px;-webkit-text-stroke:0.1px #231f20;left:408.10px;transform:translate(-50%,0.57px) scaleX(0.7597) rotate(0.03deg)">9.00</div>
<div class="t rt" id="t165" style="top:408px;font-size:13.6px;-webkit-text-stroke:0.1px #231f20;left:478.50px;transform:translate(-100%,0.98px) scaleX(0.7407) rotate(0.03deg)">57,400</div>
<div class="t rt" id="t166" style="top:410px;font-size:13.6px;-webkit-text-stroke:0.1px #231f20;left:553.90px;transform:translate(-100%,0.07px) scaleX(0.7407) rotate(0.03deg)">60,400</div>
<div class="t rt" id="t167" style="top:409px;font-size:13.6px;-webkit-text-stroke:0.1px #231f20;left:616.40px;transform:translate(-100%,0.48px) scaleX(0.7331) rotate(0.03deg)">8,400</div>
<div class="t c" id="t168" style="top:409px;font-size:13.6px;-webkit-text-stroke:0.1px #231f20;left:645.00px;transform:translate(-50%,0.38px) scaleX(0.7369) rotate(0.03deg)">N/A</div>
<div class="t c" id="t169" style="top:409px;font-size:13.6px;-webkit-text-stroke:0.1px #231f20;left:689.70px;transform:translate(-50%,0.18px) scaleX(0.7597) rotate(0.03deg)">2-1/8"</div>
<div class="t c" id="t170" style="top:408px;font-size:13.6px;-webkit-text-stroke:0.1px #231f20;left:741.60px;transform:translate(-50%,0.88px) scaleX(0.7217) rotate(0.03deg)">19</div>
<div class="t c" id="t171" style="top:408px;font-size:13.6px;-webkit-text-stroke:0.1px #231f20;left:788.60px;transform:translate(-50%,0.98px) scaleX(0.7369) rotate(0.03deg)">77.00</div>
<div class="t c" id="t172" style="top:408px;font-size:13.6px;-webkit-text-stroke:0.1px #231f20;left:831.60px;transform:translate(-50%,0.88px) scaleX(0.7597) rotate(0.03deg)">38.50</div>
<div class="t c" id="t173" style="top:408px;font-size:13.6px;-webkit-text-stroke:0.1px #231f20;left:872.00px;transform:translate(-50%,0.77px) scaleX(0.7597) rotate(0.03deg)">40.50</div>
<div class="t c" id="t174" style="top:410px;font-size:13.6px;-webkit-text-stroke:0.1px #231f20;left:915.30px;transform:translate(-50%,0.07px) scaleX(0.7445) rotate(0.03deg)">530</div>
<div class="t l" id="t175" style="top:426px;font-size:13.6px;-webkit-text-stroke:0.1px #231f20;left:51.00px;transform:translateY(0.53px) scaleX(0.7431) rotate(0.03deg)">SM*24E-0759</div>
<div class="t l" id="t176" style="top:426px;font-size:13.6px;-webkit-text-stroke:0.1px #231f20;left:113.80px;transform:translateY(0.53px) scaleX(0.8845) rotate(0.03deg)">[ ]{ }</div>
<div class="t c" id="t177" style="top:426px;font-size:13.6px;-webkit-text-stroke:0.1px #231f20;left:170.60px;transform:translate(-50%,0.93px) scaleX(0.7597) rotate(0.03deg)">4.15</div>
<div class="t c" id="t178" style="top:426px;font-size:13.6px;-webkit-text-stroke:0.1px #231f20;left:203.60px;transform:translate(-50%,0.93px) scaleX(0.7597) rotate(0.03deg)">N/A</div>
<div class="t c" id="t179" style="top:425px;font-size:13.6px;-webkit-text-stroke:0.1px #231f20;left:237.70px;transform:translate(-50%,0.95px) scaleX(0.7597) rotate(0.03deg)">4.15</div>
<div class="t c" id="t180" style="top:427px;font-size:13.6px;-webkit-text-stroke:0.1px #231f20;left:271.20px;transform:translate(-50%,0.23px) scaleX(0.7597) rotate(0.03deg)">9.00</div>
<div class="t c" id="t181" style="top:426px;font-size:13.6px;-webkit-text-stroke:0.1px #231f20;left:307.00px;transform:translate(-50%,0.41px) scaleX(0.7597) rotate(0.03deg)">N/A</div>
<div class="t c" id="t182" style="top:426px;font-size:13.6px;-webkit-text-stroke:0.1px #231f20;left:340.80px;transform:translate(-50%,0.11px) scaleX(0.7597) rotate(0.03deg)">N/A</div>
<div class="t c" id="t183" style="top:426px;font-size:13.6px;-webkit-text-stroke:0.1px #231f20;left:373.80px;transform:translate(-50%,0.83px) scaleX(0.7597) rotate(0.03deg)">4.15</div>
<div class="t c" id="t184" style="top:427px;font-size:13.6px;-webkit-text-stroke:0.1px #231f20;left:408.10px;transform:translate(-50%,0.23px) scaleX(0.7597) rotate(0.03deg)">9.00</div>
<div class="t rt" id="t185" style="top:425px;font-size:13.6px;-webkit-text-stroke:0.1px #231f20;left:478.50px;transform:translate(-100%,0.63px) scaleX(0.7407) rotate(0.03deg)">75,900</div>
<div class="t rt" id="t186" style="top:426px;font-size:13.6px;-webkit-text-stroke:0.1px #231f20;left:553.90px;transform:translate(-100%,0.73px) scaleX(0.7407) rotate(0.03deg)">79,700</div>
<div class="t rt" id="t187" style="top:426px;font-size:13.6px;-webkit-text-stroke:0.1px #231f20;left:616.40px;transform:translate(-100%,0.13px) scaleX(0.7331) rotate(0.03deg)">19,380</div>
<div class="t c" id="t188" style="top:426px;font-size:13.6px;-webkit-text-stroke:0.1px #231f20;left:645.00px;transform:translate(-50%,0.03px) scaleX(0.7369) rotate(0.03deg)">N/A</div>
<div class="t c" id="t189" style="top:425px;font-size:13.6px;-webkit-text-stroke:0.1px #231f20;left:689.70px;transform:translate(-50%,0.83px) scaleX(0.7597) rotate(0.03deg)">2-1/8"</div>
<div class="t c" id="t190" style="top:425px;font-size:13.6px;-webkit-text-stroke:0.1px #231f20;left:741.60px;transform:translate(-50%,0.53px) scaleX(0.7217) rotate(0.03deg)">24</div>
<div class="t c" id="t191" style="top:425px;font-size:13.6px;-webkit-text-stroke:0.1px #231f20;left:788.60px;transform:translate(-50%,0.63px) scaleX(0.7369) rotate(0.03deg)">134.30</div>
<div class="t c" id="t192" style="top:425px;font-size:13.6px;-webkit-text-stroke:0.1px #231f20;left:831.60px;transform:translate(-50%,0.53px) scaleX(0.7597) rotate(0.03deg)">38.50</div>
<div class="t c" id="t193" style="top:425px;font-size:13.6px;-webkit-text-stroke:0.1px #231f20;left:872.00px;transform:translate(-50%,0.73px) scaleX(0.7597) rotate(0.03deg)">40.50</div>
<div class="t c" id="t194" style="top:426px;font-size:13.6px;-webkit-text-stroke:0.1px #231f20;left:915.30px;transform:translate(-50%,0.73px) scaleX(0.7445) rotate(0.03deg)">836</div>
<div class="t l" id="t195" style="top:443px;font-size:13.6px;-webkit-text-stroke:0.1px #231f20;left:51.00px;transform:translateY(0.19px) scaleX(0.7431) rotate(0.03deg)">SM*25E-0842</div>
<div class="t l" id="t196" style="top:443px;font-size:13.6px;-webkit-text-stroke:0.1px #231f20;left:113.80px;transform:translateY(0.19px) scaleX(0.8845) rotate(0.03deg)">[ ]{ }</div>
<div class="t c" id="t197" style="top:443px;font-size:13.6px;-webkit-text-stroke:0.1px #231f20;left:170.60px;transform:translate(-50%,0.59px) scaleX(0.7597) rotate(0.03deg)">4.15</div>
<div class="t c" id="t198" style="top:443px;font-size:13.6px;-webkit-text-stroke:0.1px #231f20;left:203.60px;transform:translate(-50%,0.59px) scaleX(0.7597) rotate(0.03deg)">9.00</div>
<div class="t c" id="t199" style="top:442px;font-size:13.6px;-webkit-text-stroke:0.1px #231f20;left:237.70px;transform:translate(-50%,0.57px) scaleX(0.7597) rotate(0.03deg)">4.15</div>
<div class="t c" id="t200" style="top:443px;font-size:13.6px;-webkit-text-stroke:0.1px #231f20;left:271.20px;transform:translate(-50%,0.89px) scaleX(0.7597) rotate(0.03deg)">9.00</div>
<div class="t c" id="t201" style="top:442px;font-size:13.6px;-webkit-text-stroke:0.1px #231f20;left:307.00px;transform:translate(-50%,1.00px) scaleX(0.7597) rotate(0.03deg)">N/A</div>
<div class="t c" id="t202" style="top:442px;font-size:13.6px;-webkit-text-stroke:0.1px #231f20;left:340.80px;transform:translate(-50%,0.70px) scaleX(0.7597) rotate(0.03deg)">N/A</div>
<div class="t c" id="t203" style="top:443px;font-size:13.6px;-webkit-text-stroke:0.1px #231f20;left:373.80px;transform:translate(-50%,0.49px) scaleX(0.7597) rotate(0.03deg)">4.15</div>
<div class="t c" id="t204" style="top:443px;font-size:13.6px;-webkit-text-stroke:0.1px #231f20;left:408.10px;transform:translate(-50%,0.89px) scaleX(0.7597) rotate(0.03deg)">9.00</div>
<div class="t rt" id="t205" style="top:442px;font-size:13.6px;-webkit-text-stroke:0.1px #231f20;left:478.50px;transform:translate(-100%,0.29px) scaleX(0.7407) rotate(0.03deg)">84,200</div>
<div class="t rt" id="t206" style="top:443px;font-size:13.6px;-webkit-text-stroke:0.1px #231f20;left:553.90px;transform:translate(-100%,0.39px) scaleX(0.7407) rotate(0.03deg)">88,400</div>
<div class="t rt" id="t207" style="top:442px;font-size:13.6px;-webkit-text-stroke:0.1px #231f20;left:616.40px;transform:translate(-100%,0.79px) scaleX(0.7331) rotate(0.03deg)">18,500</div>
<div class="t c" id="t208" style="top:442px;font-size:13.6px;-webkit-text-stroke:0.1px #231f20;left:645.00px;transform:translate(-50%,0.69px) scaleX(0.7369) rotate(0.03deg)">N/A</div>
<div class="t c" id="t209" style="top:442px;font-size:13.6px;-webkit-text-stroke:0.1px #231f20;left:689.70px;transform:translate(-50%,0.49px) scaleX(0.7597) rotate(0.03deg)">2-1/8"</div>
<div class="t c" id="t210" style="top:442px;font-size:13.6px;-webkit-text-stroke:0.1px #231f20;left:741.60px;transform:translate(-50%,0.19px) scaleX(0.7217) rotate(0.03deg)">24</div>
<div class="t c" id="t211" style="top:442px;font-size:13.6px;-webkit-text-stroke:0.1px #231f20;left:788.60px;transform:translate(-50%,0.29px) scaleX(0.7369) rotate(0.03deg)">134.30</div>
<div class="t c" id="t212" style="top:442px;font-size:13.6px;-webkit-text-stroke:0.1px #231f20;left:831.60px;transform:translate(-50%,0.19px) scaleX(0.7597) rotate(0.03deg)">38.50</div>
<div class="t c" id="t213" style="top:441px;font-size:13.6px;-webkit-text-stroke:0.1px #231f20;left:872.00px;transform:translate(-50%,0.59px) scaleX(0.7597) rotate(0.03deg)">40.50</div>
<div class="t c" id="t214" style="top:443px;font-size:13.6px;-webkit-text-stroke:0.1px #231f20;left:915.30px;transform:translate(-50%,0.39px) scaleX(0.7445) rotate(0.03deg)">874</div>
<div class="t l" id="t215" style="top:459px;font-size:13.6px;-webkit-text-stroke:0.1px #231f20;left:51.00px;transform:translateY(0.84px) scaleX(0.7431) rotate(0.03deg)">SM*26E-0869</div>
<div class="t l" id="t216" style="top:459px;font-size:13.6px;-webkit-text-stroke:0.1px #231f20;left:113.80px;transform:translateY(0.84px) scaleX(0.8845) rotate(0.03deg)">[ ]{ }</div>
<div class="t c" id="t217" style="top:460px;font-size:13.6px;-webkit-text-stroke:0.1px #231f20;left:170.60px;transform:translate(-50%,0.24px) scaleX(0.7597) rotate(0.03deg)">4.15</div>
<div class="t c" id="t218" style="top:460px;font-size:13.6px;-webkit-text-stroke:0.1px #231f20;left:203.60px;transform:translate(-50%,0.24px) scaleX(0.7597) rotate(0.03deg)">9.00</div>
<div class="t c" id="t219" style="top:459px;font-size:13.6px;-webkit-text-stroke:0.1px #231f20;left:237.70px;transform:translate(-50%,0.20px) scaleX(0.7597) rotate(0.03deg)">4.15</div>
<div class="t c" id="t220" style="top:460px;font-size:13.6px;-webkit-text-stroke:0.1px #231f20;left:271.20px;transform:translate(-50%,0.54px) scaleX(0.7597) rotate(0.03deg)">9.00</div>
<div class="t c" id="t221" style="top:459px;font-size:13.6px;-webkit-text-stroke:0.1px #231f20;left:307.00px;transform:translate(-50%,0.58px) scaleX(0.7597) rotate(0.03deg)">N/A</div>
<div class="t c" id="t222" style="top:459px;font-size:13.6px;-webkit-text-stroke:0.1px #231f20;left:340.80px;transform:translate(-50%,0.28px) scaleX(0.7597) rotate(0.03deg)">N/A</div>
<div class="t c" id="t223" style="top:460px;font-size:13.6px;-webkit-text-stroke:0.1px #231f20;left:373.80px;transform:translate(-50%,0.14px) scaleX(0.7597) rotate(0.03deg)">4.15</div>
<div class="t c" id="t224" style="top:460px;font-size:13.6px;-webkit-text-stroke:0.1px #231f20;left:408.10px;transform:translate(-50%,0.54px) scaleX(0.7597) rotate(0.03deg)">9.00</div>
<div class="t rt" id="t225" style="top:458px;font-size:13.6px;-webkit-text-stroke:0.1px #231f20;left:478.50px;transform:translate(-100%,0.94px) scaleX(0.7407) rotate(0.03deg)">86,900</div>
<div class="t rt" id="t226" style="top:460px;font-size:13.6px;-webkit-text-stroke:0.1px #231f20;left:553.90px;transform:translate(-100%,0.04px) scaleX(0.7407) rotate(0.03deg)">91,500</div>
<div class="t rt" id="t227" style="top:459px;font-size:13.6px;-webkit-text-stroke:0.1px #231f20;left:616.40px;transform:translate(-100%,0.44px) scaleX(0.7331) rotate(0.03deg)">17,600</div>
<div class="t c" id="t228" style="top:459px;font-size:13.6px;-webkit-text-stroke:0.1px #231f20;left:645.00px;transform:translate(-50%,0.34px) scaleX(0.7369) rotate(0.03deg)">N/A</div>
<div class="t c" id="t229" style="top:459px;font-size:13.6px;-webkit-text-stroke:0.1px #231f20;left:689.70px;transform:translate(-50%,0.14px) scaleX(0.7597) rotate(0.03deg)">2-1/8"</div>
<div class="t c" id="t230" style="top:458px;font-size:13.6px;-webkit-text-stroke:0.1px #231f20;left:741.60px;transform:translate(-50%,0.84px) scaleX(0.7217) rotate(0.03deg)">24</div>
<div class="t c" id="t231" style="top:458px;font-size:13.6px;-webkit-text-stroke:0.1px #231f20;left:788.60px;transform:translate(-50%,0.94px) scaleX(0.7369) rotate(0.03deg)">134.30</div>
<div class="t c" id="t232" style="top:458px;font-size:13.6px;-webkit-text-stroke:0.1px #231f20;left:831.60px;transform:translate(-50%,0.84px) scaleX(0.7597) rotate(0.03deg)">38.50</div>
<div class="t c" id="t233" style="top:459px;font-size:13.6px;-webkit-text-stroke:0.1px #231f20;left:872.00px;transform:translate(-50%,0.94px) scaleX(0.7597) rotate(0.03deg)">40.50</div>
<div class="t c" id="t234" style="top:460px;font-size:13.6px;-webkit-text-stroke:0.1px #231f20;left:915.30px;transform:translate(-50%,0.04px) scaleX(0.7445) rotate(0.03deg)">912</div>
<div class="t l" id="t255" style="top:493px;font-size:13.6px;-webkit-text-stroke:0.1px #231f20;left:51.00px;transform:translateY(0.15px) scaleX(0.7431) rotate(0.03deg)">SM*25E-1097</div>
<div class="t l" id="t256" style="top:493px;font-size:13.6px;-webkit-text-stroke:0.1px #231f20;left:113.80px;transform:translateY(0.15px) scaleX(0.8845) rotate(0.03deg)">[ ]{ }</div>
<div class="t c" id="t257" style="top:493px;font-size:13.6px;-webkit-text-stroke:0.1px #231f20;left:170.60px;transform:translate(-50%,0.55px) scaleX(0.7597) rotate(0.03deg)">4.15</div>
<div class="t c" id="t258" style="top:493px;font-size:13.6px;-webkit-text-stroke:0.1px #231f20;left:203.60px;transform:translate(-50%,0.55px) scaleX(0.7597) rotate(0.03deg)">9.00</div>
<div class="t c" id="t259" style="top:492px;font-size:13.6px;-webkit-text-stroke:0.1px #231f20;left:237.70px;transform:translate(-50%,0.45px) scaleX(0.7597) rotate(0.03deg)">4.15</div>
<div class="t c" id="t260" style="top:493px;font-size:13.6px;-webkit-text-stroke:0.1px #231f20;left:271.20px;transform:translate(-50%,0.85px) scaleX(0.7597) rotate(0.03deg)">9.00</div>
<div class="t c" id="t261" style="top:492px;font-size:13.6px;-webkit-text-stroke:0.1px #231f20;left:307.00px;transform:translate(-50%,0.75px) scaleX(0.7597) rotate(0.03deg)">N/A</div>
<div class="t c" id="t262" style="top:492px;font-size:13.6px;-webkit-text-stroke:0.1px #231f20;left:340.80px;transform:translate(-50%,0.45px) scaleX(0.7597) rotate(0.03deg)">N/A</div>
<div class="t c" id="t263" style="top:493px;font-size:13.6px;-webkit-text-stroke:0.1px #231f20;left:373.80px;transform:translate(-50%,0.45px) scaleX(0.7597) rotate(0.03deg)">4.15</div>
<div class="t c" id="t264" style="top:493px;font-size:13.6px;-webkit-text-stroke:0.1px #231f20;left:408.10px;transform:translate(-50%,0.85px) scaleX(0.7597) rotate(0.03deg)">9.00</div>
<div class="t rt" id="t265" style="top:492px;font-size:13.6px;-webkit-text-stroke:0.1px #231f20;left:478.50px;transform:translate(-100%,0.25px) scaleX(0.7407) rotate(0.03deg)">109,700</div>
<div class="t rt" id="t266" style="top:493px;font-size:13.6px;-webkit-text-stroke:0.1px #231f20;left:553.90px;transform:translate(-100%,0.35px) scaleX(0.7407) rotate(0.03deg)">115,200</div>
<div class="t rt" id="t267" style="top:492px;font-size:13.6px;-webkit-text-stroke:0.1px #231f20;left:616.40px;transform:translate(-100%,0.75px) scaleX(0.7331) rotate(0.03deg)">17,600</div>
<div class="t c" id="t268" style="top:492px;font-size:13.6px;-webkit-text-stroke:0.1px #231f20;left:645.00px;transform:translate(-50%,0.65px) scaleX(0.7369) rotate(0.03deg)">N/A</div>
<div class="t c" id="t269" style="top:492px;font-size:13.6px;-webkit-text-stroke:0.1px #231f20;left:689.70px;transform:translate(-50%,0.45px) scaleX(0.7597) rotate(0.03deg)">2-5/8"</div>
<div class="t c" id="t270" style="top:492px;font-size:13.6px;-webkit-text-stroke:0.1px #231f20;left:741.60px;transform:translate(-50%,0.15px) scaleX(0.7217) rotate(0.03deg)">36</div>
<div class="t c" id="t271" style="top:492px;font-size:13.6px;-webkit-text-stroke:0.1px #231f20;left:788.60px;transform:translate(-50%,0.05px) scaleX(0.7369) rotate(0.03deg)">134.30</div>
<div class="t c" id="t272" style="top:491px;font-size:13.6px;-webkit-text-stroke:0.1px #231f20;left:831.60px;transform:translate(-50%,0.85px) scaleX(0.7597) rotate(0.03deg)">38.50</div>
<div class="t c" id="t273" style="top:493px;font-size:13.6px;-webkit-text-stroke:0.1px #231f20;left:872.00px;transform:translate(-50%,0.35px) scaleX(0.7597) rotate(0.03deg)">40.50</div>
<div class="t c" id="t274" style="top:493px;font-size:13.6px;-webkit-text-stroke:0.1px #231f20;left:915.30px;transform:translate(-50%,0.65px) scaleX(0.7445) rotate(0.03deg)">900</div>
<div class="t l" id="t275" style="top:509px;font-size:13.6px;-webkit-text-stroke:0.1px #231f20;left:51.00px;transform:translateY(0.81px) scaleX(0.7520) rotate(0.03deg)">SM*26E-1132</div>
<div class="t l" id="t276" style="top:509px;font-size:13.6px;-webkit-text-stroke:0.1px #231f20;left:113.80px;transform:translateY(0.81px) scaleX(0.8845) rotate(0.03deg)">[ ]{ }</div>
<div class="t c" id="t277" style="top:510px;font-size:13.6px;-webkit-text-stroke:0.1px #231f20;left:170.60px;transform:translate(-50%,0.21px) scaleX(0.7597) rotate(0.03deg)">4.15</div>
<div class="t c" id="t278" style="top:510px;font-size:13.6px;-webkit-text-stroke:0.1px #231f20;left:203.60px;transform:translate(-50%,0.21px) scaleX(0.7597) rotate(0.03deg)">9.00</div>
<div class="t c" id="t279" style="top:509px;font-size:13.6px;-webkit-text-stroke:0.1px #231f20;left:237.70px;transform:translate(-50%,0.07px) scaleX(0.7597) rotate(0.03deg)">4.15</div>
<div class="t c" id="t280" style="top:510px;font-size:13.6px;-webkit-text-stroke:0.1px #231f20;left:271.20px;transform:translate(-50%,0.51px) scaleX(0.7597) rotate(0.03deg)">9.00</div>
<div class="t c" id="t281" style="top:509px;font-size:13.6px;-webkit-text-stroke:0.1px #231f20;left:307.00px;transform:translate(-50%,0.34px) scaleX(0.7597) rotate(0.03deg)">N/A</div>
<div class="t c" id="t282" style="top:509px;font-size:13.6px;-webkit-text-stroke:0.1px #231f20;left:340.80px;transform:translate(-50%,0.04px) scaleX(0.7597) rotate(0.03deg)">N/A</div>
<div class="t c" id="t283" style="top:510px;font-size:13.6px;-webkit-text-stroke:0.1px #231f20;left:373.80px;transform:translate(-50%,0.11px) scaleX(0.7597) rotate(0.03deg)">4.15</div>
<div class="t c" id="t284" style="top:510px;font-size:13.6px;-webkit-text-stroke:0.1px #231f20;left:408.10px;transform:translate(-50%,0.51px) scaleX(0.7597) rotate(0.03deg)">9.00</div>
<div class="t rt" id="t285" style="top:508px;font-size:13.6px;-webkit-text-stroke:0.1px #231f20;left:478.50px;transform:translate(-100%,0.91px) scaleX(0.7407) rotate(0.03deg)">113,200</div>
<div class="t rt" id="t286" style="top:510px;font-size:13.6px;-webkit-text-stroke:0.1px #231f20;left:553.90px;transform:translate(-100%,0.01px) scaleX(0.7407) rotate(0.03deg)">119,200</div>
<div class="t rt" id="t287" style="top:509px;font-size:13.6px;-webkit-text-stroke:0.1px #231f20;left:616.40px;transform:translate(-100%,0.41px) scaleX(0.7331) rotate(0.03deg)">16,800</div>
<div class="t c" id="t288" style="top:509px;font-size:13.6px;-webkit-text-stroke:0.1px #231f20;left:645.00px;transform:translate(-50%,0.31px) scaleX(0.7369) rotate(0.03deg)">N/A</div>
<div class="t c" id="t289" style="top:509px;font-size:13.6px;-webkit-text-stroke:0.1px #231f20;left:689.70px;transform:translate(-50%,0.11px) scaleX(0.7597) rotate(0.03deg)">2-5/8"</div>
<div class="t c" id="t290" style="top:508px;font-size:13.6px;-webkit-text-stroke:0.1px #231f20;left:741.60px;transform:translate(-50%,0.81px) scaleX(0.7217) rotate(0.03deg)">36</div>
<div class="t c" id="t291" style="top:508px;font-size:13.6px;-webkit-text-stroke:0.1px #231f20;left:788.60px;transform:translate(-50%,0.71px) scaleX(0.7369) rotate(0.03deg)">134.30</div>
<div class="t c" id="t292" style="top:508px;font-size:13.6px;-webkit-text-stroke:0.1px #231f20;left:831.60px;transform:translate(-50%,0.51px) scaleX(0.7597) rotate(0.03deg)">38.50</div>
<div class="t c" id="t293" style="top:510px;font-size:13.6px;-webkit-text-stroke:0.1px #231f20;left:872.00px;transform:translate(-50%,0.01px) scaleX(0.7597) rotate(0.03deg)">40.50</div>
<div class="t c" id="t294" style="top:510px;font-size:13.6px;-webkit-text-stroke:0.1px #231f20;left:915.30px;transform:translate(-50%,0.31px) scaleX(0.7445) rotate(0.03deg)">920</div>
<div class="t l" id="t295" style="top:526px;font-size:13.6px;-webkit-text-stroke:0.1px #231f20;left:51.00px;transform:translateY(0.46px) scaleX(0.7431) rotate(0.03deg)">SM*34E-1070</div>
<div class="t l" id="t296" style="top:526px;font-size:13.6px;-webkit-text-stroke:0.1px #231f20;left:113.80px;transform:translateY(0.46px) scaleX(0.8845) rotate(0.03deg)">[ ]{ }</div>
<div class="t c" id="t297" style="top:526px;font-size:13.6px;-webkit-text-stroke:0.1px #231f20;left:170.60px;transform:translate(-50%,0.86px) scaleX(0.7597) rotate(0.03deg)">4.15</div>
<div class="t c" id="t298" style="top:526px;font-size:13.6px;-webkit-text-stroke:0.1px #231f20;left:203.60px;transform:translate(-50%,0.86px) scaleX(0.7597) rotate(0.03deg)">N/A</div>
<div class="t c" id="t299" style="top:525px;font-size:13.6px;-webkit-text-stroke:0.1px #231f20;left:237.70px;transform:translate(-50%,0.69px) scaleX(0.7597) rotate(0.03deg)">4.15</div>
<div class="t c" id="t300" style="top:527px;font-size:13.6px;-webkit-text-stroke:0.1px #231f20;left:271.20px;transform:translate(-50%,0.16px) scaleX(0.7597) rotate(0.03deg)">9.00</div>
<div class="t c" id="t301" style="top:525px;font-size:13.6px;-webkit-text-stroke:0.1px #231f20;left:307.00px;transform:translate(-50%,0.93px) scaleX(0.7597) rotate(0.03deg)">N/A</div>
<div class="t c" id="t302" style="top:525px;font-size:13.6px;-webkit-text-stroke:0.1px #231f20;left:340.80px;transform:translate(-50%,0.63px) scaleX(0.7597) rotate(0.03deg)">N/A</div>
<div class="t c" id="t303" style="top:526px;font-size:13.6px;-webkit-text-stroke:0.1px #231f20;left:373.80px;transform:translate(-50%,0.76px) scaleX(0.7597) rotate(0.03deg)">4.15</div>
<div class="t c" id="t304" style="top:527px;font-size:13.6px;-webkit-text-stroke:0.1px #231f20;left:408.10px;transform:translate(-50%,0.16px) scaleX(0.7597) rotate(0.03deg)">9.00</div>
<div class="t rt" id="t305" style="top:525px;font-size:13.6px;-webkit-text-stroke:0.1px #231f20;left:478.50px;transform:translate(-100%,0.56px) scaleX(0.7407) rotate(0.03deg)">107,000</div>
<div class="t rt" id="t306" style="top:526px;font-size:13.6px;-webkit-text-stroke:0.1px #231f20;left:553.90px;transform:translate(-100%,0.66px) scaleX(0.7407) rotate(0.03deg)">112,300</div>
<div class="t rt" id="t307" style="top:526px;font-size:13.6px;-webkit-text-stroke:0.1px #231f20;left:616.40px;transform:translate(-100%,0.06px) scaleX(0.7331) rotate(0.03deg)">28,600</div>
<div class="t c" id="t308" style="top:525px;font-size:13.6px;-webkit-text-stroke:0.1px #231f20;left:645.00px;transform:translate(-50%,0.96px) scaleX(0.7369) rotate(0.03deg)">N/A</div>
<div class="t c" id="t309" style="top:525px;font-size:13.6px;-webkit-text-stroke:0.1px #231f20;left:689.70px;transform:translate(-50%,0.76px) scaleX(0.7597) rotate(0.03deg)">2-5/8"</div>
<div class="t c" id="t310" style="top:525px;font-size:13.6px;-webkit-text-stroke:0.1px #231f20;left:741.60px;transform:translate(-50%,0.46px) scaleX(0.7217) rotate(0.03deg)">33</div>
<div class="t c" id="t311" style="top:525px;font-size:13.6px;-webkit-text-stroke:0.1px #231f20;left:788.60px;transform:translate(-50%,0.36px) scaleX(0.7369) rotate(0.03deg)">134.30</div>
<div class="t c" id="t312" style="top:525px;font-size:13.6px;-webkit-text-stroke:0.1px #231f20;left:831.60px;transform:translate(-50%,0.16px) scaleX(0.7597) rotate(0.03deg)">38.50</div>
<div class="t c" id="t313" style="top:526px;font-size:13.6px;-webkit-text-stroke:0.1px #231f20;left:872.00px;transform:translate(-50%,0.66px) scaleX(0.7597) rotate(0.03deg)">51.00</div>
<div class="t c" id="t314" style="top:526px;font-size:13.6px;-webkit-text-stroke:0.1px #231f20;left:915.30px;transform:translate(-50%,0.96px) scaleX(0.7445) rotate(0.03deg)">1,030</div>
<div class="t l" id="t315" style="top:543px;font-size:13.6px;-webkit-text-stroke:0.1px #231f20;left:51.00px;transform:translateY(0.12px) scaleX(0.7520) rotate(0.03deg)">SM*35E-1186</div>
<div class="t l" id="t316" style="top:543px;font-size:13.6px;-webkit-text-stroke:0.1px #231f20;left:113.80px;transform:translateY(0.12px) scaleX(0.8845) rotate(0.03deg)">[ ]{ }</div>
<div class="t c" id="t317" style="top:543px;font-size:13.6px;-webkit-text-stroke:0.1px #231f20;left:170.60px;transform:translate(-50%,0.51px) scaleX(0.7597) rotate(0.03deg)">4.15</div>
<div class="t c" id="t318" style="top:543px;font-size:13.6px;-webkit-text-stroke:0.1px #231f20;left:203.60px;transform:translate(-50%,0.51px) scaleX(0.7597) rotate(0.03deg)">9.00</div>
<div class="t c" id="t319" style="top:542px;font-size:13.6px;-webkit-text-stroke:0.1px #231f20;left:237.70px;transform:translate(-50%,0.32px) scaleX(0.7597) rotate(0.03deg)">4.15</div>
<div class="t c" id="t320" style="top:543px;font-size:13.6px;-webkit-text-stroke:0.1px #231f20;left:271.20px;transform:translate(-50%,0.82px) scaleX(0.7597) rotate(0.03deg)">9.00</div>
<div class="t c" id="t321" style="top:542px;font-size:13.6px;-webkit-text-stroke:0.1px #231f20;left:307.00px;transform:translate(-50%,0.51px) scaleX(0.7597) rotate(0.03deg)">N/A</div>
<div class="t c" id="t322" style="top:542px;font-size:13.6px;-webkit-text-stroke:0.1px #231f20;left:340.80px;transform:translate(-50%,0.21px) scaleX(0.7597) rotate(0.03deg)">N/A</div>
<div class="t c" id="t323" style="top:543px;font-size:13.6px;-webkit-text-stroke:0.1px #231f20;left:373.80px;transform:translate(-50%,0.41px) scaleX(0.7597) rotate(0.03deg)">4.15</div>
<div class="t c" id="t324" style="top:543px;font-size:13.6px;-webkit-text-stroke:0.1px #231f20;left:408.10px;transform:translate(-50%,0.82px) scaleX(0.7597) rotate(0.03deg)">9.00</div>
<div class="t rt" id="t325" style="top:542px;font-size:13.6px;-webkit-text-stroke:0.1px #231f20;left:478.50px;transform:translate(-100%,0.22px) scaleX(0.7407) rotate(0.03deg)">118,600</div>
<div class="t rt" id="t326" style="top:543px;font-size:13.6px;-webkit-text-stroke:0.1px #231f20;left:553.90px;transform:translate(-100%,0.32px) scaleX(0.7407) rotate(0.03deg)">124,500</div>
<div class="t rt" id="t327" style="top:542px;font-size:13.6px;-webkit-text-stroke:0.1px #231f20;left:616.40px;transform:translate(-100%,0.72px) scaleX(0.7331) rotate(0.03deg)">27,300</div>
<div class="t c" id="t328" style="top:542px;font-size:13.6px;-webkit-text-stroke:0.1px #231f20;left:645.00px;transform:translate(-50%,0.62px) scaleX(0.7369) rotate(0.03deg)">N/A</div>
<div class="t c" id="t329" style="top:542px;font-size:13.6px;-webkit-text-stroke:0.1px #231f20;left:689.70px;transform:translate(-50%,0.41px) scaleX(0.7597) rotate(0.03deg)">2-5/8"</div>
<div class="t c" id="t330" style="top:542px;font-size:13.6px;-webkit-text-stroke:0.1px #231f20;left:741.60px;transform:translate(-50%,0.12px) scaleX(0.7217) rotate(0.03deg)">33</div>
<div class="t c" id="t331" style="top:542px;font-size:13.6px;-webkit-text-stroke:0.1px #231f20;left:788.60px;transform:translate(-50%,0.01px) scaleX(0.7369) rotate(0.03deg)">134.30</div>
<div class="t c" id="t332" style="top:541px;font-size:13.6px;-webkit-text-stroke:0.1px #231f20;left:831.60px;transform:translate(-50%,0.82px) scaleX(0.7597) rotate(0.03deg)">38.50</div>
<div class="t c" id="t333" style="top:543px;font-size:13.6px;-webkit-text-stroke:0.1px #231f20;left:872.00px;transform:translate(-50%,0.32px) scaleX(0.7597) rotate(0.03deg)">51.00</div>
<div class="t c" id="t334" style="top:543px;font-size:13.6px;-webkit-text-stroke:0.1px #231f20;left:915.30px;transform:translate(-50%,0.62px) scaleX(0.7445) rotate(0.03deg)">1,050</div>
<div class="t l" id="t335" style="top:559px;font-size:13.6px;-webkit-text-stroke:0.1px #231f20;left:51.00px;transform:translateY(0.77px) scaleX(0.7431) rotate(0.03deg)">SM*36E-1225</div>
<div class="t l" id="t336" style="top:559px;font-size:13.6px;-webkit-text-stroke:0.1px #231f20;left:113.80px;transform:translateY(0.77px) scaleX(0.8845) rotate(0.03deg)">[ ]{ }</div>
<div class="t c" id="t337" style="top:560px;font-size:13.6px;-webkit-text-stroke:0.1px #231f20;left:170.60px;transform:translate(-50%,0.17px) scaleX(0.7597) rotate(0.03deg)">4.15</div>
<div class="t c" id="t338" style="top:560px;font-size:13.6px;-webkit-text-stroke:0.1px #231f20;left:203.60px;transform:translate(-50%,0.17px) scaleX(0.7597) rotate(0.03deg)">N/A</div>
<div class="t c" id="t339" style="top:558px;font-size:13.6px;-webkit-text-stroke:0.1px #231f20;left:237.70px;transform:translate(-50%,0.94px) scaleX(0.7597) rotate(0.03deg)">4.15</div>
<div class="t c" id="t340" style="top:560px;font-size:13.6px;-webkit-text-stroke:0.1px #231f20;left:271.20px;transform:translate(-50%,0.47px) scaleX(0.7597) rotate(0.03deg)">9.00</div>
<div class="t c" id="t341" style="top:559px;font-size:13.6px;-webkit-text-stroke:0.1px #231f20;left:307.00px;transform:translate(-50%,0.10px) scaleX(0.7597) rotate(0.03deg)">N/A</div>
<div class="t c" id="t342" style="top:558px;font-size:13.6px;-webkit-text-stroke:0.1px #231f20;left:340.80px;transform:translate(-50%,0.80px) scaleX(0.7597) rotate(0.03deg)">N/A</div>
<div class="t c" id="t343" style="top:560px;font-size:13.6px;-webkit-text-stroke:0.1px #231f20;left:373.80px;transform:translate(-50%,0.07px) scaleX(0.7597) rotate(0.03deg)">4.15</div>
<div class="t c" id="t344" style="top:560px;font-size:13.6px;-webkit-text-stroke:0.1px #231f20;left:408.10px;transform:translate(-50%,0.47px) scaleX(0.7597) rotate(0.03deg)">9.00</div>
<div class="t rt" id="t345" style="top:558px;font-size:13.6px;-webkit-text-stroke:0.1px #231f20;left:478.50px;transform:translate(-100%,0.87px) scaleX(0.7407) rotate(0.03deg)">122,500</div>
<div class="t rt" id="t346" style="top:559px;font-size:13.6px;-webkit-text-stroke:0.1px #231f20;left:553.90px;transform:translate(-100%,0.97px) scaleX(0.7407) rotate(0.03deg)">128,900</div>
<div class="t rt" id="t347" style="top:559px;font-size:13.6px;-webkit-text-stroke:0.1px #231f20;left:616.40px;transform:translate(-100%,0.37px) scaleX(0.7331) rotate(0.03deg)">24,900</div>
<div class="t c" id="t348" style="top:559px;font-size:13.6px;-webkit-text-stroke:0.1px #231f20;left:645.00px;transform:translate(-50%,0.27px) scaleX(0.7369) rotate(0.03deg)">N/A</div>
<div class="t c" id="t349" style="top:559px;font-size:13.6px;-webkit-text-stroke:0.1px #231f20;left:689.70px;transform:translate(-50%,0.07px) scaleX(0.7597) rotate(0.03deg)">2-5/8"</div>
<div class="t c" id="t350" style="top:558px;font-size:13.6px;-webkit-text-stroke:0.1px #231f20;left:741.60px;transform:translate(-50%,0.77px) scaleX(0.7217) rotate(0.03deg)">33</div>
<div class="t c" id="t351" style="top:558px;font-size:13.6px;-webkit-text-stroke:0.1px #231f20;left:788.60px;transform:translate(-50%,0.67px) scaleX(0.7369) rotate(0.03deg)">134.30</div>
<div class="t c" id="t352" style="top:558px;font-size:13.6px;-webkit-text-stroke:0.1px #231f20;left:831.60px;transform:translate(-50%,0.47px) scaleX(0.7597) rotate(0.03deg)">38.50</div>
<div class="t c" id="t353" style="top:559px;font-size:13.6px;-webkit-text-stroke:0.1px #231f20;left:872.00px;transform:translate(-50%,0.97px) scaleX(0.7597) rotate(0.03deg)">51.00</div>
<div class="t c" id="t354" style="top:560px;font-size:13.6px;-webkit-text-stroke:0.1px #231f20;left:915.30px;transform:translate(-50%,0.27px) scaleX(0.7445) rotate(0.03deg)">1,060</div>
<div class="t l" id="t355" style="top:576px;font-size:13.6px;-webkit-text-stroke:0.1px #231f20;left:51.00px;transform:translateY(0.43px) scaleX(0.7431) rotate(0.03deg)">SM*34E-1393</div>
<div class="t l" id="t356" style="top:576px;font-size:13.6px;-webkit-text-stroke:0.1px #231f20;left:113.80px;transform:translateY(0.43px) scaleX(0.8845) rotate(0.03deg)">[ ]{ }</div>
<div class="t c" id="t357" style="top:576px;font-size:13.6px;-webkit-text-stroke:0.1px #231f20;left:170.60px;transform:translate(-50%,0.83px) scaleX(0.7597) rotate(0.03deg)">4.15</div>
<div class="t c" id="t358" style="top:576px;font-size:13.6px;-webkit-text-stroke:0.1px #231f20;left:203.60px;transform:translate(-50%,0.83px) scaleX(0.7597) rotate(0.03deg)">9.00</div>
<div class="t c" id="t359" style="top:575px;font-size:13.6px;-webkit-text-stroke:0.1px #231f20;left:237.70px;transform:translate(-50%,0.57px) scaleX(0.7597) rotate(0.03deg)">4.15</div>
<div class="t c" id="t360" style="top:577px;font-size:13.6px;-webkit-text-stroke:0.1px #231f20;left:271.20px;transform:translate(-50%,0.13px) scaleX(0.7597) rotate(0.03deg)">9.00</div>
<div class="t c" id="t361" style="top:575px;font-size:13.6px;-webkit-text-stroke:0.1px #231f20;left:307.00px;transform:translate(-50%,0.68px) scaleX(0.7597) rotate(0.03deg)">N/A</div>
<div class="t c" id="t362" style="top:575px;font-size:13.6px;-webkit-text-stroke:0.1px #231f20;left:340.80px;transform:translate(-50%,0.38px) scaleX(0.7597) rotate(0.03deg)">N/A</div>
<div class="t c" id="t363" style="top:576px;font-size:13.6px;-webkit-text-stroke:0.1px #231f20;left:373.80px;transform:translate(-50%,0.73px) scaleX(0.7597) rotate(0.03deg)">4.15</div>
<div class="t c" id="t364" style="top:577px;font-size:13.6px;-webkit-text-stroke:0.1px #231f20;left:408.10px;transform:translate(-50%,0.13px) scaleX(0.7597) rotate(0.03deg)">9.00</div>
<div class="t rt" id="t365" style="top:575px;font-size:13.6px;-webkit-text-stroke:0.1px #231f20;left:478.50px;transform:translate(-100%,0.53px) scaleX(0.7407) rotate(0.03deg)">139,300</div>
<div class="t rt" id="t366" style="top:576px;font-size:13.6px;-webkit-text-stroke:0.1px #231f20;left:553.90px;transform:translate(-100%,0.63px) scaleX(0.7407) rotate(0.03deg)">146,300</div>
<div class="t rt" id="t367" style="top:576px;font-size:13.6px;-webkit-text-stroke:0.1px #231f20;left:616.40px;transform:translate(-100%,0.03px) scaleX(0.7331) rotate(0.03deg)">27,400</div>
<div class="t c" id="t368" style="top:575px;font-size:13.6px;-webkit-text-stroke:0.1px #231f20;left:645.00px;transform:translate(-50%,0.93px) scaleX(0.7369) rotate(0.03deg)">N/A</div>
<div class="t c" id="t369" style="top:575px;font-size:13.6px;-webkit-text-stroke:0.1px #231f20;left:689.70px;transform:translate(-50%,0.73px) scaleX(0.7597) rotate(0.03deg)">2-5/8"</div>
<div class="t c" id="t370" style="top:575px;font-size:13.6px;-webkit-text-stroke:0.1px #231f20;left:741.60px;transform:translate(-50%,0.43px) scaleX(0.7217) rotate(0.03deg)">48</div>
<div class="t c" id="t371" style="top:575px;font-size:13.6px;-webkit-text-stroke:0.1px #231f20;left:788.60px;transform:translate(-50%,0.33px) scaleX(0.7369) rotate(0.03deg)">134.30</div>
<div class="t c" id="t372" style="top:575px;font-size:13.6px;-webkit-text-stroke:0.1px #231f20;left:831.60px;transform:translate(-50%,0.13px) scaleX(0.7597) rotate(0.03deg)">38.50</div>
<div class="t c" id="t373" style="top:576px;font-size:13.6px;-webkit-text-stroke:0.1px #231f20;left:872.00px;transform:translate(-50%,0.63px) scaleX(0.7597) rotate(0.03deg)">51.00</div>
<div class="t c" id="t374" style="top:576px;font-size:13.6px;-webkit-text-stroke:0.1px #231f20;left:915.30px;transform:translate(-50%,0.93px) scaleX(0.7445) rotate(0.03deg)">1,195</div>
<div class="t l" id="t375" style="top:593px;font-size:13.6px;-webkit-text-stroke:0.1px #231f20;left:51.00px;transform:translateY(0.08px) scaleX(0.7431) rotate(0.03deg)">SM*35E-1544</div>
<div class="t l" id="t376" style="top:593px;font-size:13.6px;-webkit-text-stroke:0.1px #231f20;left:113.80px;transform:translateY(0.08px) scaleX(0.8845) rotate(0.03deg)">[ ]{ }</div>
<div class="t c" id="t377" style="top:593px;font-size:13.6px;-webkit-text-stroke:0.1px #231f20;left:170.60px;transform:translate(-50%,0.48px) scaleX(0.7597) rotate(0.03deg)">4.15</div>
<div class="t c" id="t378" style="top:593px;font-size:13.6px;-webkit-text-stroke:0.1px #231f20;left:203.60px;transform:translate(-50%,0.48px) scaleX(0.7597) rotate(0.03deg)">9.00</div>
<div class="t c" id="t379" style="top:592px;font-size:13.6px;-webkit-text-stroke:0.1px #231f20;left:237.70px;transform:translate(-50%,0.19px) scaleX(0.7597) rotate(0.03deg)">4.15</div>
<div class="t c" id="t380" style="top:593px;font-size:13.6px;-webkit-text-stroke:0.1px #231f20;left:271.20px;transform:translate(-50%,0.78px) scaleX(0.7597) rotate(0.03deg)">9.00</div>
<div class="t c" id="t381" style="top:592px;font-size:13.6px;-webkit-text-stroke:0.1px #231f20;left:307.00px;transform:translate(-50%,0.27px) scaleX(0.7597) rotate(0.03deg)">N/A</div>
<div class="t c" id="t382" style="top:591px;font-size:13.6px;-webkit-text-stroke:0.1px #231f20;left:340.80px;transform:translate(-50%,0.97px) scaleX(0.7597) rotate(0.03deg)">N/A</div>
<div class="t c" id="t383" style="top:593px;font-size:13.6px;-webkit-text-stroke:0.1px #231f20;left:373.80px;transform:translate(-50%,0.38px) scaleX(0.7597) rotate(0.03deg)">4.15</div>
<div class="t c" id="t384" style="top:593px;font-size:13.6px;-webkit-text-stroke:0.1px #231f20;left:408.10px;transform:translate(-50%,0.78px) scaleX(0.7597) rotate(0.03deg)">9.00</div>
<div class="t rt" id="t385" style="top:592px;font-size:13.6px;-webkit-text-stroke:0.1px #231f20;left:478.50px;transform:translate(-100%,0.18px) scaleX(0.7407) rotate(0.03deg)">154,400</div>
<div class="t rt" id="t386" style="top:593px;font-size:13.6px;-webkit-text-stroke:0.1px #231f20;left:553.90px;transform:translate(-100%,0.28px) scaleX(0.7407) rotate(0.03deg)">162,100</div>
<div class="t rt" id="t387" style="top:592px;font-size:13.6px;-webkit-text-stroke:0.1px #231f20;left:616.40px;transform:translate(-100%,0.68px) scaleX(0.7331) rotate(0.03deg)">26,100</div>
<div class="t c" id="t388" style="top:592px;font-size:13.6px;-webkit-text-stroke:0.1px #231f20;left:645.00px;transform:translate(-50%,0.58px) scaleX(0.7369) rotate(0.03deg)">N/A</div>
<div class="t c" id="t389" style="top:592px;font-size:13.6px;-webkit-text-stroke:0.1px #231f20;left:689.70px;transform:translate(-50%,0.38px) scaleX(0.7597) rotate(0.03deg)">2-5/8"</div>
<div class="t c" id="t390" style="top:592px;font-size:13.6px;-webkit-text-stroke:0.1px #231f20;left:741.60px;transform:translate(-50%,0.08px) scaleX(0.7217) rotate(0.03deg)">48</div>
<div class="t c" id="t391" style="top:591px;font-size:13.6px;-webkit-text-stroke:0.1px #231f20;left:788.60px;transform:translate(-50%,0.98px) scaleX(0.7369) rotate(0.03deg)">134.30</div>
<div class="t c" id="t392" style="top:591px;font-size:13.6px;-webkit-text-stroke:0.1px #231f20;left:831.60px;transform:translate(-50%,0.78px) scaleX(0.7597) rotate(0.03deg)">38.50</div>
<div class="t c" id="t393" style="top:593px;font-size:13.6px;-webkit-text-stroke:0.1px #231f20;left:872.00px;transform:translate(-50%,0.28px) scaleX(0.7597) rotate(0.03deg)">51.00</div>
<div class="t c" id="t394" style="top:593px;font-size:13.6px;-webkit-text-stroke:0.1px #231f20;left:915.30px;transform:translate(-50%,0.58px) scaleX(0.7445) rotate(0.03deg)">1,215</div>
<div class="t l" id="t395" style="top:609px;font-size:13.6px;-webkit-text-stroke:0.1px #231f20;left:51.00px;transform:translateY(0.74px) scaleX(0.7431) rotate(0.03deg)">SM*36E-1594</div>
<div class="t l" id="t396" style="top:609px;font-size:13.6px;-webkit-text-stroke:0.1px #231f20;left:113.80px;transform:translateY(0.74px) scaleX(0.8845) rotate(0.03deg)">[ ]{ }</div>
<div class="t c" id="t397" style="top:610px;font-size:13.6px;-webkit-text-stroke:0.1px #231f20;left:170.60px;transform:translate(-50%,0.13px) scaleX(0.7597) rotate(0.03deg)">4.15</div>
<div class="t c" id="t398" style="top:610px;font-size:13.6px;-webkit-text-stroke:0.1px #231f20;left:203.60px;transform:translate(-50%,0.13px) scaleX(0.7597) rotate(0.03deg)">9.00</div>
<div class="t c" id="t399" style="top:608px;font-size:13.6px;-webkit-text-stroke:0.1px #231f20;left:237.70px;transform:translate(-50%,0.82px) scaleX(0.7597) rotate(0.03deg)">4.15</div>
<div class="t c" id="t400" style="top:610px;font-size:13.6px;-webkit-text-stroke:0.1px #231f20;left:271.20px;transform:translate(-50%,0.44px) scaleX(0.7597) rotate(0.03deg)">9.00</div>
<div class="t c" id="t401" style="top:608px;font-size:13.6px;-webkit-text-stroke:0.1px #231f20;left:307.00px;transform:translate(-50%,0.85px) scaleX(0.7597) rotate(0.03deg)">N/A</div>
<div class="t c" id="t402" style="top:608px;font-size:13.6px;-webkit-text-stroke:0.1px #231f20;left:340.80px;transform:translate(-50%,0.55px) scaleX(0.7597) rotate(0.03deg)">N/A</div>
<div class="t c" id="t403" style="top:610px;font-size:13.6px;-webkit-text-stroke:0.1px #231f20;left:373.80px;transform:translate(-50%,0.03px) scaleX(0.7597) rotate(0.03deg)">4.15</div>
<div class="t c" id="t404" style="top:610px;font-size:13.6px;-webkit-text-stroke:0.1px #231f20;left:408.10px;transform:translate(-50%,0.44px) scaleX(0.7597) rotate(0.03deg)">9.00</div>
<div class="t rt" id="t405" style="top:608px;font-size:13.6px;-webkit-text-stroke:0.1px #231f20;left:478.50px;transform:translate(-100%,0.84px) scaleX(0.7407) rotate(0.03deg)">159,400</div>
<div class="t rt" id="t406" style="top:609px;font-size:13.6px;-webkit-text-stroke:0.1px #231f20;left:553.90px;transform:translate(-100%,0.94px) scaleX(0.7407) rotate(0.03deg)">167,800</div>
<div class="t rt" id="t407" style="top:609px;font-size:13.6px;-webkit-text-stroke:0.1px #231f20;left:616.40px;transform:translate(-100%,0.34px) scaleX(0.7331) rotate(0.03deg)">25,800</div>
<div class="t c" id="t408" style="top:609px;font-size:13.6px;-webkit-text-stroke:0.1px #231f20;left:645.00px;transform:translate(-50%,0.24px) scaleX(0.7369) rotate(0.03deg)">N/A</div>
<div class="t c" id="t409" style="top:609px;font-size:13.6px;-webkit-text-stroke:0.1px #231f20;left:689.70px;transform:translate(-50%,0.03px) scaleX(0.7597) rotate(0.03deg)">2-5/8"</div>
<div class="t c" id="t410" style="top:608px;font-size:13.6px;-webkit-text-stroke:0.1px #231f20;left:741.60px;transform:translate(-50%,0.74px) scaleX(0.7217) rotate(0.03deg)">48</div>
<div class="t c" id="t411" style="top:608px;font-size:13.6px;-webkit-text-stroke:0.1px #231f20;left:788.60px;transform:translate(-50%,0.63px) scaleX(0.7369) rotate(0.03deg)">134.30</div>
<div class="t c" id="t412" style="top:608px;font-size:13.6px;-webkit-text-stroke:0.1px #231f20;left:831.60px;transform:translate(-50%,0.44px) scaleX(0.7597) rotate(0.03deg)">38.50</div>
<div class="t c" id="t413" style="top:609px;font-size:13.6px;-webkit-text-stroke:0.1px #231f20;left:872.00px;transform:translate(-50%,0.94px) scaleX(0.7597) rotate(0.03deg)">51.00</div>
<div class="t c" id="t414" style="top:610px;font-size:13.6px;-webkit-text-stroke:0.1px #231f20;left:915.30px;transform:translate(-50%,0.24px) scaleX(0.7445) rotate(0.03deg)">1,240</div>
<div class="t l" id="t415" style="top:626px;font-size:13.6px;-webkit-text-stroke:0.1px #231f20;left:51.00px;transform:translateY(0.39px) scaleX(0.8867) rotate(0.03deg)">**</div>
<div class="t l" id="t416" style="top:626px;font-size:13.6px;-webkit-text-stroke:0.1px #231f20;left:60.70px;transform:translateY(0.39px) scaleX(0.7431) rotate(0.03deg)">SM*44E-1465</div>
<div class="t l" id="t417" style="top:626px;font-size:13.6px;-webkit-text-stroke:0.1px #231f20;left:123.60px;transform:translateY(0.39px) scaleX(0.8762) rotate(0.03deg)">[ ]{ }</div>
<div class="t c" id="t418" style="top:626px;font-size:13.6px;-webkit-text-stroke:0.1px #231f20;left:170.60px;transform:translate(-50%,0.79px) scaleX(0.7597) rotate(0.03deg)">4.15</div>
<div class="t c" id="t419" style="top:626px;font-size:13.6px;-webkit-text-stroke:0.1px #231f20;left:203.60px;transform:translate(-50%,0.79px) scaleX(0.7597) rotate(0.03deg)">9.00</div>
<div class="t c" id="t420" style="top:625px;font-size:13.6px;-webkit-text-stroke:0.1px #231f20;left:237.70px;transform:translate(-50%,0.44px) scaleX(0.7597) rotate(0.03deg)">4.15</div>
<div class="t c" id="t421" style="top:627px;font-size:13.6px;-webkit-text-stroke:0.1px #231f20;left:271.20px;transform:translate(-50%,0.09px) scaleX(0.7597) rotate(0.03deg)">9.00</div>
<div class="t c" id="t422" style="top:625px;font-size:13.6px;-webkit-text-stroke:0.1px #231f20;left:307.00px;transform:translate(-50%,0.44px) scaleX(0.7597) rotate(0.03deg)">N/A</div>
<div class="t c" id="t423" style="top:625px;font-size:13.6px;-webkit-text-stroke:0.1px #231f20;left:340.80px;transform:translate(-50%,0.14px) scaleX(0.7597) rotate(0.03deg)">N/A</div>
<div class="t c" id="t424" style="top:626px;font-size:13.6px;-webkit-text-stroke:0.1px #231f20;left:373.80px;transform:translate(-50%,0.69px) scaleX(0.7597) rotate(0.03deg)">4.15</div>
<div class="t c" id="t425" style="top:627px;font-size:13.6px;-webkit-text-stroke:0.1px #231f20;left:408.10px;transform:translate(-50%,0.09px) scaleX(0.7597) rotate(0.03deg)">9.00</div>
<div class="t rt" id="t426" style="top:625px;font-size:13.6px;-webkit-text-stroke:0.1px #231f20;left:478.50px;transform:translate(-100%,0.49px) scaleX(0.7407) rotate(0.03deg)">146,500</div>
<div class="t rt" id="t427" style="top:626px;font-size:13.6px;-webkit-text-stroke:0.1px #231f20;left:553.90px;transform:translate(-100%,0.59px) scaleX(0.7407) rotate(0.03deg)">167,000</div>
<div class="t rt" id="t428" style="top:625px;font-size:13.6px;-webkit-text-stroke:0.1px #231f20;left:616.40px;transform:translate(-100%,0.99px) scaleX(0.7331) rotate(0.03deg)">38,130</div>
<div class="t c" id="t429" style="top:625px;font-size:13.6px;-webkit-text-stroke:0.1px #231f20;left:645.00px;transform:translate(-50%,0.89px) scaleX(0.7369) rotate(0.03deg)">N/A</div>
<div class="t c" id="t430" style="top:625px;font-size:13.6px;-webkit-text-stroke:0.1px #231f20;left:689.70px;transform:translate(-50%,0.69px) scaleX(0.7597) rotate(0.03deg)">(2) 2-1/8"</div>
<div class="t c" id="t431" style="top:625px;font-size:13.6px;-webkit-text-stroke:0.1px #231f20;left:741.60px;transform:translate(-50%,0.39px) scaleX(0.7217) rotate(0.03deg)">47</div>
<div class="t c" id="t432" style="top:625px;font-size:13.6px;-webkit-text-stroke:0.1px #231f20;left:788.60px;transform:translate(-50%,0.29px) scaleX(0.7369) rotate(0.03deg)">173.00</div>
<div class="t c" id="t433" style="top:625px;font-size:13.6px;-webkit-text-stroke:0.1px #231f20;left:831.60px;transform:translate(-50%,0.09px) scaleX(0.7597) rotate(0.03deg)">38.50</div>
<div class="t c" id="t434" style="top:626px;font-size:13.6px;-webkit-text-stroke:0.1px #231f20;left:872.00px;transform:translate(-50%,0.59px) scaleX(0.7597) rotate(0.03deg)">52.50</div>
<div class="t c" id="t435" style="top:626px;font-size:13.6px;-webkit-text-stroke:0.1px #231f20;left:915.30px;transform:translate(-50%,0.89px) scaleX(0.7445) rotate(0.03deg)">1,370</div>
<div class="t l" id="t436" style="top:643px;font-size:13.6px;-webkit-text-stroke:0.1px #231f20;left:51.00px;transform:translateY(0.05px) scaleX(0.8867) rotate(0.03deg)">**</div>
<div class="t l" id="t437" style="top:643px;font-size:13.6px;-webkit-text-stroke:0.1px #231f20;left:60.70px;transform:translateY(0.05px) scaleX(0.7431) rotate(0.03deg)">SM*45E-1523</div>
<div class="t l" id="t438" style="top:643px;font-size:13.6px;-webkit-text-stroke:0.1px #231f20;left:123.60px;transform:translateY(0.05px) scaleX(0.8762) rotate(0.03deg)">[ ]{ }</div>
<div class="t c" id="t439" style="top:643px;font-size:13.6px;-webkit-text-stroke:0.1px #231f20;left:170.60px;transform:translate(-50%,0.45px) scaleX(0.7597) rotate(0.03deg)">4.15</div>
<div class="t c" id="t440" style="top:643px;font-size:13.6px;-webkit-text-stroke:0.1px #231f20;left:203.60px;transform:translate(-50%,0.45px) scaleX(0.7597) rotate(0.03deg)">9.00</div>
<div class="t c" id="t441" style="top:642px;font-size:13.6px;-webkit-text-stroke:0.1px #231f20;left:237.70px;transform:translate(-50%,0.07px) scaleX(0.7597) rotate(0.03deg)">4.15</div>
<div class="t c" id="t442" style="top:643px;font-size:13.6px;-webkit-text-stroke:0.1px #231f20;left:271.20px;transform:translate(-50%,0.75px) scaleX(0.7597) rotate(0.03deg)">9.00</div>
<div class="t c" id="t443" style="top:642px;font-size:13.6px;-webkit-text-stroke:0.1px #231f20;left:307.00px;transform:translate(-50%,0.02px) scaleX(0.7597) rotate(0.03deg)">N/A</div>
<div class="t c" id="t444" style="top:641px;font-size:13.6px;-webkit-text-stroke:0.1px #231f20;left:340.80px;transform:translate(-50%,0.72px) scaleX(0.7597) rotate(0.03deg)">N/A</div>
<div class="t c" id="t445" style="top:643px;font-size:13.6px;-webkit-text-stroke:0.1px #231f20;left:373.80px;transform:translate(-50%,0.35px) scaleX(0.7597) rotate(0.03deg)">4.15</div>
<div class="t c" id="t446" style="top:643px;font-size:13.6px;-webkit-text-stroke:0.1px #231f20;left:408.10px;transform:translate(-50%,0.75px) scaleX(0.7597) rotate(0.03deg)">9.00</div>
<div class="t rt" id="t447" style="top:642px;font-size:13.6px;-webkit-text-stroke:0.1px #231f20;left:478.50px;transform:translate(-100%,0.15px) scaleX(0.7407) rotate(0.03deg)">152,300</div>
<div class="t rt" id="t448" style="top:643px;font-size:13.6px;-webkit-text-stroke:0.1px #231f20;left:553.90px;transform:translate(-100%,0.25px) scaleX(0.7407) rotate(0.03deg)">173,600</div>
<div class="t rt" id="t449" style="top:642px;font-size:13.6px;-webkit-text-stroke:0.1px #231f20;left:616.40px;transform:translate(-100%,0.65px) scaleX(0.7331) rotate(0.03deg)">36,400</div>
<div class="t c" id="t450" style="top:642px;font-size:13.6px;-webkit-text-stroke:0.1px #231f20;left:645.00px;transform:translate(-50%,0.55px) scaleX(0.7369) rotate(0.03deg)">N/A</div>
<div class="t c" id="t451" style="top:642px;font-size:13.6px;-webkit-text-stroke:0.1px #231f20;left:689.70px;transform:translate(-50%,0.35px) scaleX(0.7597) rotate(0.03deg)">(2) 2-1/8"</div>
<div class="t c" id="t452" style="top:642px;font-size:13.6px;-webkit-text-stroke:0.1px #231f20;left:741.60px;transform:translate(-50%,0.05px) scaleX(0.7217) rotate(0.03deg)">47</div>
<div class="t c" id="t453" style="top:641px;font-size:13.6px;-webkit-text-stroke:0.1px #231f20;left:788.60px;transform:translate(-50%,0.95px) scaleX(0.7369) rotate(0.03deg)">173.00</div>
<div class="t c" id="t454" style="top:641px;font-size:13.6px;-webkit-text-stroke:0.1px #231f20;left:831.60px;transform:translate(-50%,0.75px) scaleX(0.7597) rotate(0.03deg)">38.50</div>
<div class="t c" id="t455" style="top:643px;font-size:13.6px;-webkit-text-stroke:0.1px #231f20;left:872.00px;transform:translate(-50%,0.25px) scaleX(0.7597) rotate(0.03deg)">52.50</div>
<div class="t c" id="t456" style="top:643px;font-size:13.6px;-webkit-text-stroke:0.1px #231f20;left:915.30px;transform:translate(-50%,0.55px) scaleX(0.7445) rotate(0.03deg)">1,340</div>
<div class="t l" id="t457" style="top:659px;font-size:13.6px;-webkit-text-stroke:0.1px #231f20;left:51.00px;transform:translateY(0.70px) scaleX(0.8867) rotate(0.03deg)">**</div>
<div class="t l" id="t458" style="top:659px;font-size:13.6px;-webkit-text-stroke:0.1px #231f20;left:60.70px;transform:translateY(0.70px) scaleX(0.7431) rotate(0.03deg)">SM*46E-1754</div>
<div class="t l" id="t459" style="top:659px;font-size:13.6px;-webkit-text-stroke:0.1px #231f20;left:123.60px;transform:translateY(0.70px) scaleX(0.8762) rotate(0.03deg)">[ ]{ }</div>
<div class="t c" id="t460" style="top:660px;font-size:13.6px;-webkit-text-stroke:0.1px #231f20;left:170.60px;transform:translate(-50%,0.10px) scaleX(0.7597) rotate(0.03deg)">4.15</div>
<div class="t c" id="t461" style="top:660px;font-size:13.6px;-webkit-text-stroke:0.1px #231f20;left:203.60px;transform:translate(-50%,0.10px) scaleX(0.7597) rotate(0.03deg)">N/A</div>
<div class="t c" id="t462" style="top:658px;font-size:13.6px;-webkit-text-stroke:0.1px #231f20;left:237.70px;transform:translate(-50%,0.69px) scaleX(0.7597) rotate(0.03deg)">4.15</div>
<div class="t c" id="t463" style="top:660px;font-size:13.6px;-webkit-text-stroke:0.1px #231f20;left:271.20px;transform:translate(-50%,0.40px) scaleX(0.7597) rotate(0.03deg)">9.00</div>
<div class="t c" id="t464" style="top:658px;font-size:13.6px;-webkit-text-stroke:0.1px #231f20;left:307.00px;transform:translate(-50%,0.61px) scaleX(0.7597) rotate(0.03deg)">N/A</div>
<div class="t c" id="t465" style="top:658px;font-size:13.6px;-webkit-text-stroke:0.1px #231f20;left:340.80px;transform:translate(-50%,0.31px) scaleX(0.7597) rotate(0.03deg)">N/A</div>
<div class="t c" id="t466" style="top:660px;font-size:13.6px;-webkit-text-stroke:0.1px #231f20;left:373.80px;transform:translate(-50%,0.00px) scaleX(0.7597) rotate(0.03deg)">4.15</div>
<div class="t c" id="t467" style="top:660px;font-size:13.6px;-webkit-text-stroke:0.1px #231f20;left:408.10px;transform:translate(-50%,0.40px) scaleX(0.7597) rotate(0.03deg)">9.00</div>
<div class="t rt" id="t468" style="top:658px;font-size:13.6px;-webkit-text-stroke:0.1px #231f20;left:478.50px;transform:translate(-100%,0.80px) scaleX(0.7407) rotate(0.03deg)">175,400</div>
<div class="t rt" id="t469" style="top:659px;font-size:13.6px;-webkit-text-stroke:0.1px #231f20;left:553.90px;transform:translate(-100%,0.90px) scaleX(0.7407) rotate(0.03deg)">184,600</div>
<div class="t rt" id="t470" style="top:659px;font-size:13.6px;-webkit-text-stroke:0.1px #231f20;left:616.40px;transform:translate(-100%,0.30px) scaleX(0.7331) rotate(0.03deg)">33,200</div>
<div class="t c" id="t471" style="top:659px;font-size:13.6px;-webkit-text-stroke:0.1px #231f20;left:645.00px;transform:translate(-50%,0.20px) scaleX(0.7369) rotate(0.03deg)">N/A</div>
<div class="t c" id="t472" style="top:659px;font-size:13.6px;-webkit-text-stroke:0.1px #231f20;left:689.70px;transform:translate(-50%,0.00px) scaleX(0.7597) rotate(0.03deg)">(2) 2-1/8"</div>
<div class="t c" id="t473" style="top:658px;font-size:13.6px;-webkit-text-stroke:0.1px #231f20;left:741.60px;transform:translate(-50%,0.70px) scaleX(0.7217) rotate(0.03deg)">47</div>
<div class="t c" id="t474" style="top:658px;font-size:13.6px;-webkit-text-stroke:0.1px #231f20;left:788.60px;transform:translate(-50%,0.60px) scaleX(0.7369) rotate(0.03deg)">173.00</div>
<div class="t c" id="t475" style="top:658px;font-size:13.6px;-webkit-text-stroke:0.1px #231f20;left:831.60px;transform:translate(-50%,0.40px) scaleX(0.7597) rotate(0.03deg)">38.50</div>
<div class="t c" id="t476" style="top:659px;font-size:13.6px;-webkit-text-stroke:0.1px #231f20;left:872.00px;transform:translate(-50%,0.90px) scaleX(0.7597) rotate(0.03deg)">52.50</div>
<div class="t c" id="t477" style="top:660px;font-size:13.6px;-webkit-text-stroke:0.1px #231f20;left:915.30px;transform:translate(-50%,0.20px) scaleX(0.7445) rotate(0.03deg)">1,400</div>
<div class="t l" id="t478" style="top:676px;font-size:13.6px;-webkit-text-stroke:0.1px #231f20;left:51.00px;transform:translateY(0.36px) scaleX(0.8867) rotate(0.03deg)">**</div>
<div class="t l" id="t479" style="top:676px;font-size:13.6px;-webkit-text-stroke:0.1px #231f20;left:60.70px;transform:translateY(0.36px) scaleX(0.7431) rotate(0.03deg)">SM*44E-1769</div>
<div class="t l" id="t480" style="top:676px;font-size:13.6px;-webkit-text-stroke:0.1px #231f20;left:123.60px;transform:translateY(0.36px) scaleX(0.8762) rotate(0.03deg)">[ ]{ }</div>
<div class="t c" id="t481" style="top:676px;font-size:13.6px;-webkit-text-stroke:0.1px #231f20;left:170.60px;transform:translate(-50%,0.75px) scaleX(0.7597) rotate(0.03deg)">4.15</div>
<div class="t c" id="t482" style="top:676px;font-size:13.6px;-webkit-text-stroke:0.1px #231f20;left:203.60px;transform:translate(-50%,0.75px) scaleX(0.7597) rotate(0.03deg)">9.00</div>
<div class="t c" id="t483" style="top:675px;font-size:13.6px;-webkit-text-stroke:0.1px #231f20;left:237.70px;transform:translate(-50%,0.32px) scaleX(0.7597) rotate(0.03deg)">4.15</div>
<div class="t c" id="t484" style="top:677px;font-size:13.6px;-webkit-text-stroke:0.1px #231f20;left:271.20px;transform:translate(-50%,0.06px) scaleX(0.7597) rotate(0.03deg)">9.00</div>
<div class="t c" id="t485" style="top:675px;font-size:13.6px;-webkit-text-stroke:0.1px #231f20;left:307.00px;transform:translate(-50%,0.19px) scaleX(0.7597) rotate(0.03deg)">N/A</div>
<div class="t c" id="t486" style="top:674px;font-size:13.6px;-webkit-text-stroke:0.1px #231f20;left:340.80px;transform:translate(-50%,0.89px) scaleX(0.7597) rotate(0.03deg)">N/A</div>
<div class="t c" id="t487" style="top:676px;font-size:13.6px;-webkit-text-stroke:0.1px #231f20;left:373.80px;transform:translate(-50%,0.65px) scaleX(0.7597) rotate(0.03deg)">4.15</div>
<div class="t c" id="t488" style="top:677px;font-size:13.6px;-webkit-text-stroke:0.1px #231f20;left:408.10px;transform:translate(-50%,0.06px) scaleX(0.7597) rotate(0.03deg)">9.00</div>
<div class="t rt" id="t489" style="top:675px;font-size:13.6px;-webkit-text-stroke:0.1px #231f20;left:478.50px;transform:translate(-100%,0.46px) scaleX(0.7407) rotate(0.03deg)">176,900</div>
<div class="t rt" id="t490" style="top:676px;font-size:13.6px;-webkit-text-stroke:0.1px #231f20;left:553.90px;transform:translate(-100%,0.56px) scaleX(0.7407) rotate(0.03deg)">201,800</div>
<div class="t rt" id="t491" style="top:675px;font-size:13.6px;-webkit-text-stroke:0.1px #231f20;left:616.40px;transform:translate(-100%,0.96px) scaleX(0.7331) rotate(0.03deg)">36,530</div>
<div class="t c" id="t492" style="top:675px;font-size:13.6px;-webkit-text-stroke:0.1px #231f20;left:645.00px;transform:translate(-50%,0.86px) scaleX(0.7369) rotate(0.03deg)">N/A</div>
<div class="t c" id="t493" style="top:675px;font-size:13.6px;-webkit-text-stroke:0.1px #231f20;left:689.70px;transform:translate(-50%,0.65px) scaleX(0.7597) rotate(0.03deg)">(2) 2-1/8"</div>
<div class="t c" id="t494" style="top:675px;font-size:13.6px;-webkit-text-stroke:0.1px #231f20;left:741.60px;transform:translate(-50%,0.36px) scaleX(0.7217) rotate(0.03deg)">67</div>
<div class="t c" id="t495" style="top:675px;font-size:13.6px;-webkit-text-stroke:0.1px #231f20;left:788.60px;transform:translate(-50%,0.25px) scaleX(0.7369) rotate(0.03deg)">173.00</div>
<div class="t c" id="t496" style="top:675px;font-size:13.6px;-webkit-text-stroke:0.1px #231f20;left:831.60px;transform:translate(-50%,0.06px) scaleX(0.7597) rotate(0.03deg)">38.50</div>
<div class="t c" id="t497" style="top:676px;font-size:13.6px;-webkit-text-stroke:0.1px #231f20;left:872.00px;transform:translate(-50%,0.56px) scaleX(0.7597) rotate(0.03deg)">52.50</div>
<div class="t c" id="t498" style="top:676px;font-size:13.6px;-webkit-text-stroke:0.1px #231f20;left:915.30px;transform:translate(-50%,0.86px) scaleX(0.7445) rotate(0.03deg)">1,469</div>
<div class="t l" id="t499" style="top:693px;font-size:13.6px;-webkit-text-stroke:0.1px #231f20;left:51.00px;transform:translateY(0.01px) scaleX(0.8867) rotate(0.03deg)">**</div>
<div class="t l" id="t500" style="top:693px;font-size:13.6px;-webkit-text-stroke:0.1px #231f20;left:60.70px;transform:translateY(0.01px) scaleX(0.7431) rotate(0.03deg)">SM*45E-1985</div>
<div class="t l" id="t501" style="top:693px;font-size:13.6px;-webkit-text-stroke:0.1px #231f20;left:123.60px;transform:translateY(0.01px) scaleX(0.8762) rotate(0.03deg)">[ ]{ }</div>
<div class="t c" id="t502" style="top:693px;font-size:13.6px;-webkit-text-stroke:0.1px #231f20;left:170.60px;transform:translate(-50%,0.41px) scaleX(0.7597) rotate(0.03deg)">4.15</div>
<div class="t c" id="t503" style="top:693px;font-size:13.6px;-webkit-text-stroke:0.1px #231f20;left:203.60px;transform:translate(-50%,0.41px) scaleX(0.7597) rotate(0.03deg)">9.00</div>
<div class="t c" id="t504" style="top:691px;font-size:13.6px;-webkit-text-stroke:0.1px #231f20;left:237.70px;transform:translate(-50%,0.94px) scaleX(0.7597) rotate(0.03deg)">4.15</div>
<div class="t c" id="t505" style="top:693px;font-size:13.6px;-webkit-text-stroke:0.1px #231f20;left:271.20px;transform:translate(-50%,0.71px) scaleX(0.7597) rotate(0.03deg)">9.00</div>
<div class="t c" id="t506" style="top:691px;font-size:13.6px;-webkit-text-stroke:0.1px #231f20;left:307.00px;transform:translate(-50%,0.78px) scaleX(0.7597) rotate(0.03deg)">N/A</div>
<div class="t c" id="t507" style="top:691px;font-size:13.6px;-webkit-text-stroke:0.1px #231f20;left:340.80px;transform:translate(-50%,0.48px) scaleX(0.7597) rotate(0.03deg)">N/A</div>
<div class="t c" id="t508" style="top:693px;font-size:13.6px;-webkit-text-stroke:0.1px #231f20;left:373.80px;transform:translate(-50%,0.31px) scaleX(0.7597) rotate(0.03deg)">4.15</div>
<div class="t c" id="t509" style="top:693px;font-size:13.6px;-webkit-text-stroke:0.1px #231f20;left:408.10px;transform:translate(-50%,0.71px) scaleX(0.7597) rotate(0.03deg)">9.00</div>
<div class="t rt" id="t510" style="top:692px;font-size:13.6px;-webkit-text-stroke:0.1px #231f20;left:478.50px;transform:translate(-100%,0.11px) scaleX(0.7407) rotate(0.03deg)">198,500</div>
<div class="t rt" id="t511" style="top:693px;font-size:13.6px;-webkit-text-stroke:0.1px #231f20;left:553.90px;transform:translate(-100%,0.21px) scaleX(0.7407) rotate(0.03deg)">226,300</div>
<div class="t rt" id="t512" style="top:692px;font-size:13.6px;-webkit-text-stroke:0.1px #231f20;left:616.40px;transform:translate(-100%,0.61px) scaleX(0.7331) rotate(0.03deg)">34,800</div>
<div class="t c" id="t513" style="top:692px;font-size:13.6px;-webkit-text-stroke:0.1px #231f20;left:645.00px;transform:translate(-50%,0.51px) scaleX(0.7369) rotate(0.03deg)">N/A</div>
<div class="t c" id="t514" style="top:692px;font-size:13.6px;-webkit-text-stroke:0.1px #231f20;left:689.70px;transform:translate(-50%,0.31px) scaleX(0.7597) rotate(0.03deg)">(2) 2-1/8"</div>
<div class="t c" id="t515" style="top:692px;font-size:13.6px;-webkit-text-stroke:0.1px #231f20;left:741.60px;transform:translate(-50%,0.01px) scaleX(0.7217) rotate(0.03deg)">67</div>
<div class="t c" id="t516" style="top:691px;font-size:13.6px;-webkit-text-stroke:0.1px #231f20;left:788.60px;transform:translate(-50%,0.91px) scaleX(0.7369) rotate(0.03deg)">173.00</div>
<div class="t c" id="t517" style="top:691px;font-size:13.6px;-webkit-text-stroke:0.1px #231f20;left:831.60px;transform:translate(-50%,0.71px) scaleX(0.7597) rotate(0.03deg)">38.50</div>
<div class="t c" id="t518" style="top:693px;font-size:13.6px;-webkit-text-stroke:0.1px #231f20;left:872.00px;transform:translate(-50%,0.21px) scaleX(0.7597) rotate(0.03deg)">52.50</div>
<div class="t c" id="t519" style="top:693px;font-size:13.6px;-webkit-text-stroke:0.1px #231f20;left:915.30px;transform:translate(-50%,0.51px) scaleX(0.7445) rotate(0.03deg)">1,540</div>
<div class="t l" id="t520" style="top:709px;font-size:13.6px;-webkit-text-stroke:0.1px #231f20;left:51.00px;transform:translateY(0.67px) scaleX(0.8867) rotate(0.03deg)">**</div>
<div class="t l" id="t521" style="top:709px;font-size:13.6px;-webkit-text-stroke:0.1px #231f20;left:60.70px;transform:translateY(0.67px) scaleX(0.7431) rotate(0.03deg)">SM*46E-2307</div>
<div class="t l" id="t522" style="top:709px;font-size:13.6px;-webkit-text-stroke:0.1px #231f20;left:123.60px;transform:translateY(0.67px) scaleX(0.8762) rotate(0.03deg)">[ ]{ }</div>
<div class="t c" id="t523" style="top:710px;font-size:13.6px;-webkit-text-stroke:0.1px #231f20;left:170.60px;transform:translate(-50%,0.07px) scaleX(0.7597) rotate(0.03deg)">4.15</div>
<div class="t c" id="t524" style="top:710px;font-size:13.6px;-webkit-text-stroke:0.1px #231f20;left:203.60px;transform:translate(-50%,0.07px) scaleX(0.7597) rotate(0.03deg)">9.00</div>
<div class="t c" id="t525" style="top:708px;font-size:13.6px;-webkit-text-stroke:0.1px #231f20;left:237.70px;transform:translate(-50%,0.57px) scaleX(0.7597) rotate(0.03deg)">4.15</div>
<div class="t c" id="t526" style="top:710px;font-size:13.6px;-webkit-text-stroke:0.1px #231f20;left:271.20px;transform:translate(-50%,0.37px) scaleX(0.7597) rotate(0.03deg)">9.00</div>
<div class="t c" id="t527" style="top:708px;font-size:13.6px;-webkit-text-stroke:0.1px #231f20;left:307.00px;transform:translate(-50%,0.37px) scaleX(0.7597) rotate(0.03deg)">N/A</div>
<div class="t c" id="t528" style="top:708px;font-size:13.6px;-webkit-text-stroke:0.1px #231f20;left:340.80px;transform:translate(-50%,0.07px) scaleX(0.7597) rotate(0.03deg)">N/A</div>
<div class="t c" id="t529" style="top:709px;font-size:13.6px;-webkit-text-stroke:0.1px #231f20;left:373.80px;transform:translate(-50%,0.97px) scaleX(0.7597) rotate(0.03deg)">4.15</div>
<div class="t c" id="t530" style="top:710px;font-size:13.6px;-webkit-text-stroke:0.1px #231f20;left:408.10px;transform:translate(-50%,0.37px) scaleX(0.7597) rotate(0.03deg)">9.00</div>
<div class="t rt" id="t531" style="top:708px;font-size:13.6px;-webkit-text-stroke:0.1px #231f20;left:478.50px;transform:translate(-100%,0.77px) scaleX(0.7407) rotate(0.03deg)">230,700</div>
<div class="t rt" id="t532" style="top:709px;font-size:13.6px;-webkit-text-stroke:0.1px #231f20;left:553.90px;transform:translate(-100%,0.87px) scaleX(0.7407) rotate(0.03deg)">242,800</div>
<div class="t rt" id="t533" style="top:709px;font-size:13.6px;-webkit-text-stroke:0.1px #231f20;left:616.40px;transform:translate(-100%,0.27px) scaleX(0.7331) rotate(0.03deg)">32,530</div>
<div class="t c" id="t534" style="top:709px;font-size:13.6px;-webkit-text-stroke:0.1px #231f20;left:645.00px;transform:translate(-50%,0.17px) scaleX(0.7369) rotate(0.03deg)">N/A</div>
<div class="t c" id="t535" style="top:708px;font-size:13.6px;-webkit-text-stroke:0.1px #231f20;left:689.70px;transform:translate(-50%,0.97px) scaleX(0.7597) rotate(0.03deg)">(2) 2-1/8"</div>
<div class="t c" id="t536" style="top:708px;font-size:13.6px;-webkit-text-stroke:0.1px #231f20;left:741.60px;transform:translate(-50%,0.67px) scaleX(0.7217) rotate(0.03deg)">67</div>
<div class="t c" id="t537" style="top:708px;font-size:13.6px;-webkit-text-stroke:0.1px #231f20;left:788.60px;transform:translate(-50%,0.57px) scaleX(0.7369) rotate(0.03deg)">173.00</div>
<div class="t c" id="t538" style="top:708px;font-size:13.6px;-webkit-text-stroke:0.1px #231f20;left:831.60px;transform:translate(-50%,0.37px) scaleX(0.7597) rotate(0.03deg)">38.50</div>
<div class="t c" id="t539" style="top:709px;font-size:13.6px;-webkit-text-stroke:0.1px #231f20;left:872.00px;transform:translate(-50%,0.87px) scaleX(0.7597) rotate(0.03deg)">52.50</div>
<div class="t c" id="t540" style="top:710px;font-size:13.6px;-webkit-text-stroke:0.1px #231f20;left:915.30px;transform:translate(-50%,0.17px) scaleX(0.7445) rotate(0.03deg)">1,600</div>
<div class="t l" id="t541" style="top:739px;font-size:12.3px;-webkit-text-stroke:0.2px #231f20;left:41.10px;transform:translateY(0.70px) scaleX(0.8000) rotate(0.03deg)">*</div>
<div class="t l" id="t542" style="top:739px;font-size:12.3px;-webkit-text-stroke:0.2px #231f20;left:46.40px;transform:translateY(0.70px) scaleX(0.6426) rotate(0.03deg)">For motor code and refrigerant, use</div>
<div class="t l" id="t543" style="top:739px;font-size:12.3px;font-weight:bold;left:172.40px;transform:translateY(0.70px) scaleX(0.7201) rotate(0.03deg)">"D"</div>
<div class="t l" id="t544" style="top:739px;font-size:12.3px;-webkit-text-stroke:0.2px #231f20;left:188.90px;transform:translateY(0.70px) scaleX(0.6286) rotate(0.03deg)">when AWEF rating is shown and</div>
<div class="t l" id="t545" style="top:739px;font-size:12.3px;font-weight:bold;left:301.70px;transform:translateY(0.70px) scaleX(0.6909) rotate(0.03deg)">"A"</div>
<div class="t l" id="t546" style="top:739px;font-size:12.3px;-webkit-text-stroke:0.2px #231f20;left:317.60px;transform:translateY(0.70px) scaleX(0.6452) rotate(0.03deg)">for non-regulated applications or where AWEF</div>
<div class="t l" id="t547" style="top:739px;font-size:12.3px;-webkit-text-stroke:0.2px #231f20;left:480.60px;transform:translateY(0.70px) scaleX(0.6445) rotate(0.03deg)">is N/A. Include fan motor heat of 4000 BTU/H per fan in room load calculations. De-rate capacity 12% for 50 Hertz operation</div>
<div class="t l" id="t548" style="top:754px;font-size:12.3px;-webkit-text-stroke:0.2px #231f20;left:46.40px;transform:translateY(0.90px) scaleX(0.6569) rotate(0.03deg)">with 3 phase motors only.</div>
<div class="t l" id="t549" style="top:754px;font-size:12.3px;font-weight:bold;left:139.10px;transform:translateY(0.90px) scaleX(0.6707) rotate(0.03deg)">Four fan SM/SV models for low temperature requires two expansion valves.</div>
<div class="t l" id="t550" style="top:754px;font-size:12.3px;-webkit-text-stroke:0.2px #231f20;left:437.70px;transform:translateY(0.90px) scaleX(0.6533) rotate(0.03deg)">[ ] Location for the refrigerant letter code. { } 3 phase motor C is standard for non-regulated applications, include</div>
<div class="t l" id="t551" style="top:754px;font-size:12.3px;font-weight:bold;left:837.10px;transform:translateY(0.90px) scaleX(0.6036) rotate(0.03deg)">"V"</div>
<div class="t l" id="t552" style="top:754px;font-size:12.3px;-webkit-text-stroke:0.2px #231f20;left:853.30px;transform:translateY(0.90px) scaleX(0.5847) rotate(0.03deg)">for</div>
<div class="t l" id="t553" style="top:770px;font-size:12.3px;-webkit-text-stroke:0.2px #231f20;left:46.40px;transform:translateY(0.10px) scaleX(0.6296) rotate(0.03deg)">Variable Speed EC control or</div>
<div class="t l" id="t554" style="top:770px;font-size:12.3px;font-weight:bold;left:148.50px;transform:translateY(0.10px) scaleX(0.6617) rotate(0.03deg)">"D"</div>
<div class="t l" id="t555" style="top:770px;font-size:12.3px;-webkit-text-stroke:0.2px #231f20;left:164.20px;transform:translateY(0.10px) scaleX(0.6444) rotate(0.03deg)">when Dual Speed control of the variable speed motor will be from a fixed 10 V signal.</div>
<div class="t l" id="t556" style="top:788px;font-size:12.3px;-webkit-text-stroke:0.2px #231f20;left:40.60px;transform:translateY(0.80px) scaleX(0.8347) rotate(0.03deg)">**</div>
<div class="t l" id="t557" style="top:788px;font-size:12.3px;font-weight:bold;-webkit-text-stroke:0.2px #231f20;left:50.60px;transform:translateY(0.80px) scaleX(0.6597) rotate(0.03deg)">G Stock Units</div>
<div class="t l" id="t558" style="top:788px;font-size:12.3px;-webkit-text-stroke:0.2px #231f20;left:105.50px;transform:translateY(0.80px) scaleX(0.6606) rotate(0.03deg)">are for glide refrigerants only (consult I/O manual for complete refrigerant listing).</div>
<div class="t l" id="t559" style="top:807px;font-size:12.3px;-webkit-text-stroke:0.2px #231f20;left:40.60px;transform:translateY(0.00px) scaleX(0.8353) rotate(0.03deg)">***</div>
<div class="t l" id="t560" style="top:807px;font-size:12.3px;font-weight:bold;-webkit-text-stroke:0.2px #231f20;left:55.30px;transform:translateY(0.00px) scaleX(0.6653) rotate(0.03deg)">N Stock Units</div>
<div class="t l" id="t561" style="top:807px;font-size:12.3px;-webkit-text-stroke:0.2px #231f20;left:110.50px;transform:translateY(0.00px) scaleX(0.6612) rotate(0.03deg)">are for non-glide or glide refrigerants (consult I/O manual for complete refrigerant listing).</div>
<div class="t l" id="t562" style="top:837px;font-size:12.3px;-webkit-text-stroke:0.5px #231f20;left:41.00px;transform:translateY(0.90px) scaleX(0.5977) rotate(0.03deg)">EXAMPLE FULL MODELS:</div>
<div class="t l" id="t563" style="top:852px;font-size:12.3px;-webkit-text-stroke:0.2px #231f20;left:41.00px;transform:translateY(0.80px) scaleX(0.6216) rotate(0.03deg)">SMD36E-1225SVK is DOE / NRCan with R-404A, variable speed motors and 208/3/60 power.</div>
<svg class="g" width="974" height="895" viewBox="0 0 974 895">
<rect x="39.20" y="467.30" width="900.70" height="29.30" fill="#f7931e"/>
<rect x="43.80" y="471.90" width="891.50" height="20.10" fill="#e9eaeb"/>
<rect x="151.75" y="471.90" width="1.30" height="20.10" fill="#231f20"/>
<rect x="189.00" y="471.90" width="1.60" height="20.10" fill="#858789"/>
<rect x="219.00" y="471.90" width="1.60" height="20.10" fill="#5e5f61"/>
<rect x="254.65" y="471.90" width="1.50" height="20.10" fill="#858789"/>
<rect x="287.85" y="471.90" width="1.50" height="20.10" fill="#48494b"/>
<rect x="324.90" y="471.90" width="1.60" height="20.10" fill="#858789"/>
<rect x="355.10" y="471.90" width="1.60" height="20.10" fill="#5e5f61"/>
<rect x="392.25" y="471.90" width="1.50" height="20.10" fill="#858789"/>
<rect x="422.75" y="471.90" width="1.30" height="20.10" fill="#231f20"/>
<rect x="498.70" y="471.90" width="1.20" height="20.10" fill="#231f20"/>
<rect x="575.90" y="471.90" width="1.20" height="20.10" fill="#231f20"/>
<rect x="627.00" y="471.90" width="1.20" height="20.10" fill="#231f20"/>
<rect x="662.75" y="471.90" width="1.30" height="20.10" fill="#48494b"/>
<rect x="716.10" y="471.90" width="1.20" height="20.10" fill="#231f20"/>
<rect x="766.40" y="471.90" width="1.60" height="20.10" fill="#5e5f61"/>
<rect x="809.35" y="471.90" width="1.30" height="20.10" fill="#48494b"/>
<rect x="852.05" y="471.90" width="1.30" height="20.10" fill="#48494b"/>
<rect x="893.75" y="471.90" width="1.30" height="20.10" fill="#231f20"/>
</svg>
<div class="t l" id="t235" style="top:476px;font-size:13.6px;-webkit-text-stroke:0.1px #231f20;left:51.00px;transform:translateY(0.50px) scaleX(0.7431) rotate(0.03deg)">SM*24E-0989</div>
<div class="t l" id="t236" style="top:476px;font-size:13.6px;-webkit-text-stroke:0.1px #231f20;left:113.80px;transform:translateY(0.50px) scaleX(0.8845) rotate(0.03deg)">[ ]{ }</div>
<div class="t c" id="t237" style="top:476px;font-size:13.6px;-webkit-text-stroke:0.1px #231f20;left:170.60px;transform:translate(-50%,0.89px) scaleX(0.7597) rotate(0.03deg)">4.15</div>
<div class="t c" id="t238" style="top:476px;font-size:13.6px;-webkit-text-stroke:0.1px #231f20;left:203.60px;transform:translate(-50%,0.89px) scaleX(0.7597) rotate(0.03deg)">9.00</div>
<div class="t c" id="t239" style="top:476px;font-size:13.6px;-webkit-text-stroke:0.1px #231f20;left:237.70px;transform:translate(-50%,0.89px) scaleX(0.7597) rotate(0.03deg)">4.15</div>
<div class="t c" id="t240" style="top:477px;font-size:13.6px;-webkit-text-stroke:0.1px #231f20;left:271.20px;transform:translate(-50%,0.19px) scaleX(0.7597) rotate(0.03deg)">9.00</div>
<div class="t c" id="t241" style="top:476px;font-size:13.6px;-webkit-text-stroke:0.1px #231f20;left:307.00px;transform:translate(-50%,0.17px) scaleX(0.7597) rotate(0.03deg)">N/A</div>
<div class="t c" id="t242" style="top:475px;font-size:13.6px;-webkit-text-stroke:0.1px #231f20;left:340.80px;transform:translate(-50%,0.87px) scaleX(0.7597) rotate(0.03deg)">N/A</div>
<div class="t c" id="t243" style="top:476px;font-size:13.6px;-webkit-text-stroke:0.1px #231f20;left:373.80px;transform:translate(-50%,0.80px) scaleX(0.7597) rotate(0.03deg)">4.15</div>
<div class="t c" id="t244" style="top:477px;font-size:13.6px;-webkit-text-stroke:0.1px #231f20;left:408.10px;transform:translate(-50%,0.19px) scaleX(0.7597) rotate(0.03deg)">9.00</div>
<div class="t rt" id="t245" style="top:475px;font-size:13.6px;-webkit-text-stroke:0.1px #231f20;left:478.50px;transform:translate(-100%,0.60px) scaleX(0.7407) rotate(0.03deg)">98,900</div>
<div class="t rt" id="t246" style="top:476px;font-size:13.6px;-webkit-text-stroke:0.1px #231f20;left:553.90px;transform:translate(-100%,0.69px) scaleX(0.7407) rotate(0.03deg)">103,800</div>
<div class="t rt" id="t247" style="top:476px;font-size:13.6px;-webkit-text-stroke:0.1px #231f20;left:616.40px;transform:translate(-100%,0.10px) scaleX(0.7331) rotate(0.03deg)">18,400</div>
<div class="t c" id="t248" style="top:475px;font-size:13.6px;-webkit-text-stroke:0.1px #231f20;left:645.00px;transform:translate(-50%,1.00px) scaleX(0.7369) rotate(0.03deg)">N/A</div>
<div class="t c" id="t249" style="top:475px;font-size:13.6px;-webkit-text-stroke:0.1px #231f20;left:689.70px;transform:translate(-50%,0.80px) scaleX(0.7597) rotate(0.03deg)">2-5/8"</div>
<div class="t c" id="t250" style="top:475px;font-size:13.6px;-webkit-text-stroke:0.1px #231f20;left:741.60px;transform:translate(-50%,0.50px) scaleX(0.7217) rotate(0.03deg)">36</div>
<div class="t c" id="t251" style="top:475px;font-size:13.6px;-webkit-text-stroke:0.1px #231f20;left:788.60px;transform:translate(-50%,0.60px) scaleX(0.7369) rotate(0.03deg)">134.30</div>
<div class="t c" id="t252" style="top:475px;font-size:13.6px;-webkit-text-stroke:0.1px #231f20;left:831.60px;transform:translate(-50%,0.50px) scaleX(0.7597) rotate(0.03deg)">38.50</div>
<div class="t c" id="t253" style="top:476px;font-size:13.6px;-webkit-text-stroke:0.1px #231f20;left:872.00px;transform:translate(-50%,0.69px) scaleX(0.7597) rotate(0.03deg)">40.50</div>
<div class="t c" id="t254" style="top:476px;font-size:13.6px;-webkit-text-stroke:0.1px #231f20;left:915.30px;transform:translate(-50%,0.69px) scaleX(0.7445) rotate(0.03deg)">860</div>
<!--EXTRA-->
</body>
</html>
